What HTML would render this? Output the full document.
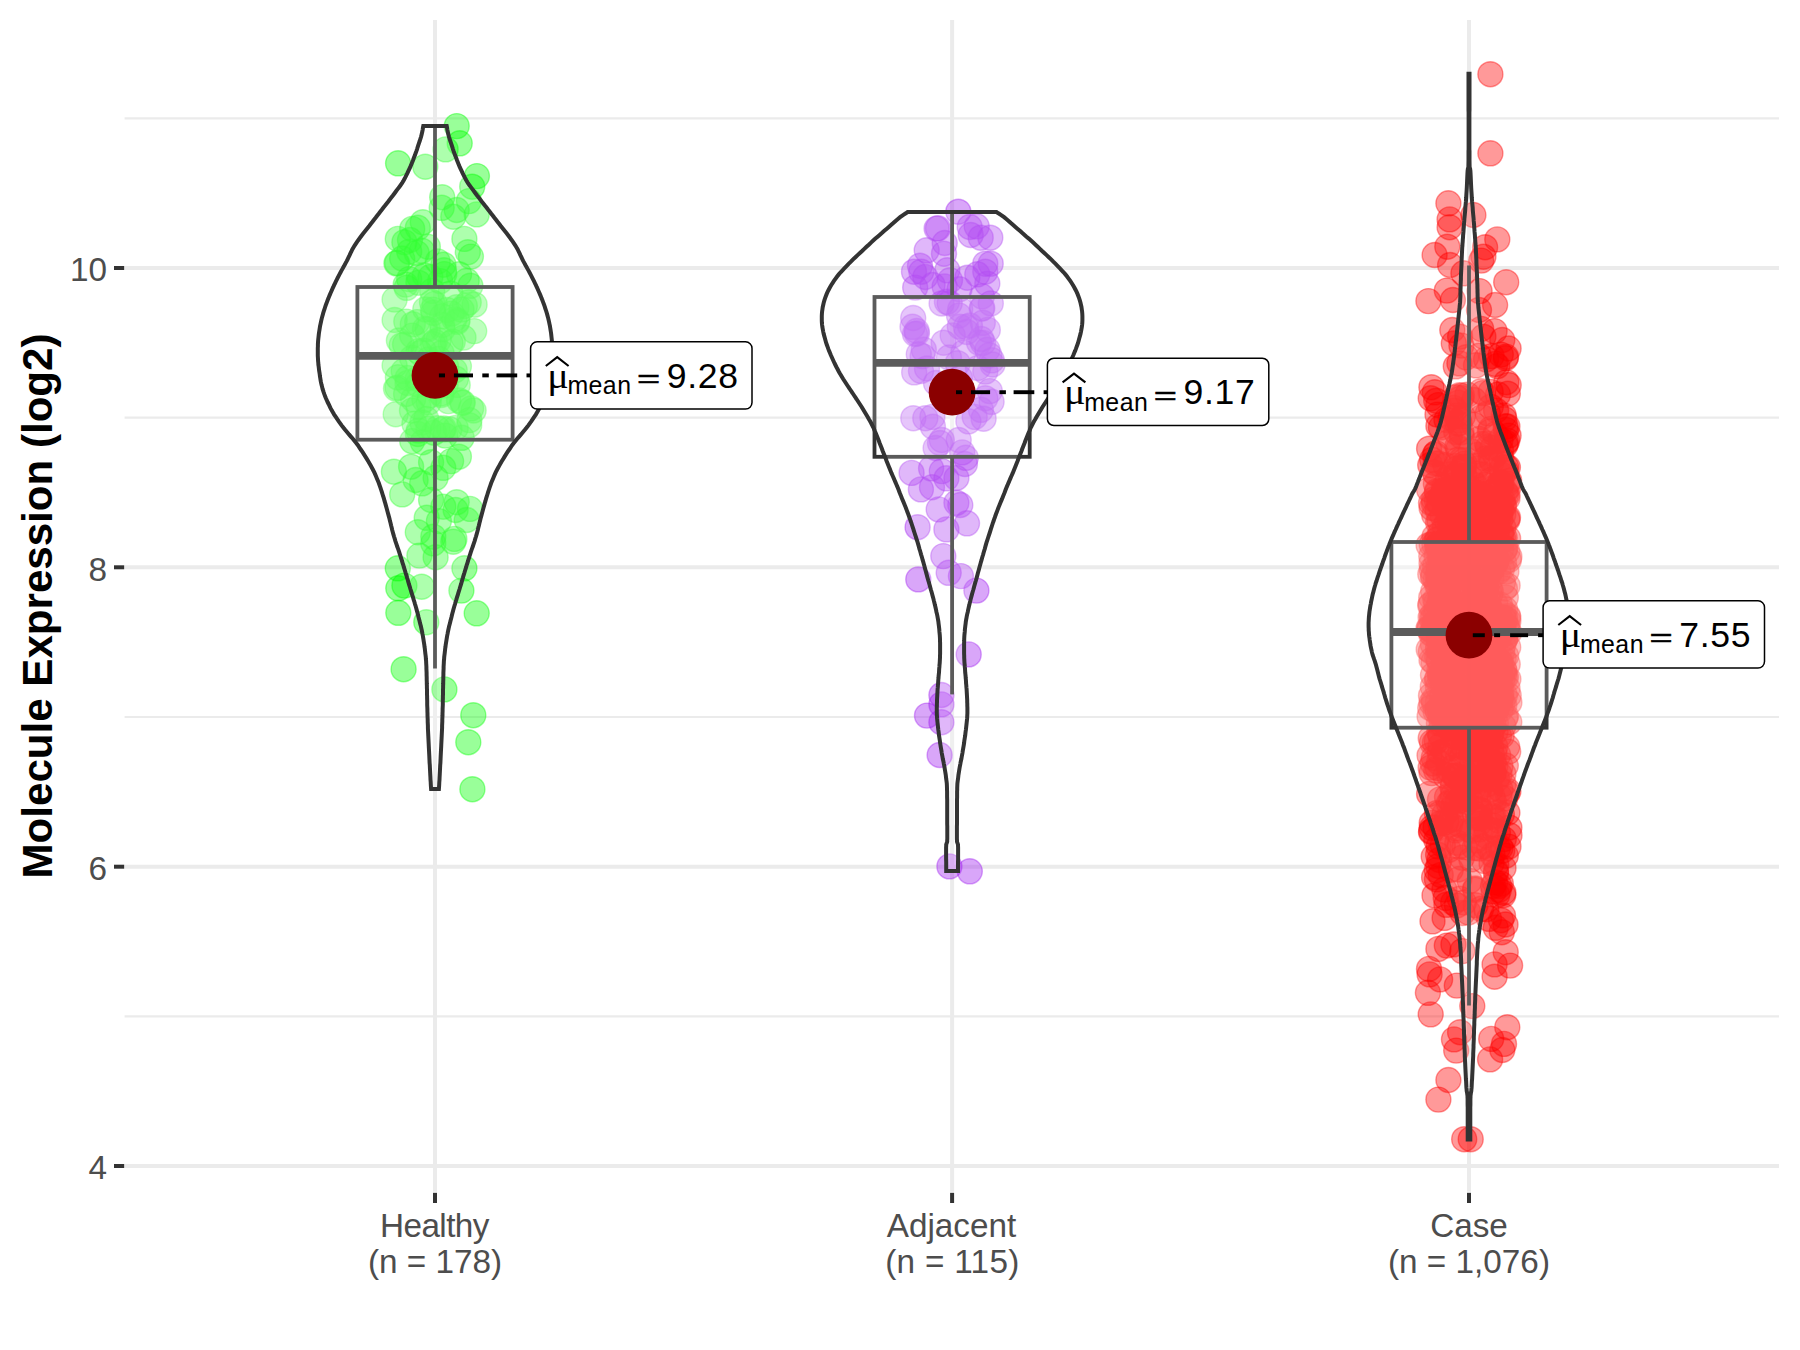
<!DOCTYPE html>
<html lang="en"><head><meta charset="utf-8"><title>Molecule Expression (log2)</title>
<style>html,body{margin:0;padding:0;background:#fff}body{width:1800px;height:1350px;overflow:hidden}svg{display:block}text{font-family:"Liberation Sans",Arial,sans-serif}</style></head><body>
<svg width="1800" height="1350" viewBox="0 0 1800 1350">
<rect x="0" y="0" width="1800" height="1350" fill="#ffffff"/>
<g stroke="#EBEBEB" fill="none">
<line x1="124.6" x2="1779.0" y1="118.3" y2="118.3" stroke-width="2.2"/>
<line x1="124.6" x2="1779.0" y1="417.7" y2="417.7" stroke-width="2.2"/>
<line x1="124.6" x2="1779.0" y1="717.0" y2="717.0" stroke-width="2.2"/>
<line x1="124.6" x2="1779.0" y1="1016.3" y2="1016.3" stroke-width="2.2"/>
<line x1="124.6" x2="1779.0" y1="268.0" y2="268.0" stroke-width="4"/>
<line x1="124.6" x2="1779.0" y1="567.3" y2="567.3" stroke-width="4"/>
<line x1="124.6" x2="1779.0" y1="866.7" y2="866.7" stroke-width="4"/>
<line x1="124.6" x2="1779.0" y1="1166.0" y2="1166.0" stroke-width="4"/>
<line x1="435.0" x2="435.0" y1="20.0" y2="1191.7" stroke-width="4"/>
<line x1="952.1" x2="952.1" y1="20.0" y2="1191.7" stroke-width="4"/>
<line x1="1469.0" x2="1469.0" y1="20.0" y2="1191.7" stroke-width="4"/>
</g>
<g fill="#00FF00" fill-opacity="0.4" stroke="#00FF00" stroke-opacity="0.4" stroke-width="1.4">
<circle cx="461.5" cy="309.6" r="12.5"/><circle cx="404.4" cy="242.2" r="12.5"/><circle cx="421.7" cy="586.7" r="12.5"/><circle cx="426.7" cy="517.8" r="12.5"/><circle cx="441.1" cy="393.5" r="12.5"/><circle cx="440.2" cy="281.1" r="12.5"/><circle cx="470.0" cy="508.9" r="12.5"/><circle cx="476.7" cy="214.4" r="12.5"/><circle cx="427.7" cy="329.2" r="12.5"/><circle cx="418.5" cy="351.2" r="12.5"/><circle cx="417.2" cy="322.1" r="12.5"/><circle cx="435.6" cy="477.8" r="12.5"/><circle cx="432.0" cy="302.1" r="12.5"/><circle cx="403.7" cy="371.1" r="12.5"/><circle cx="443.8" cy="428.4" r="12.5"/><circle cx="431.1" cy="500.0" r="12.5"/><circle cx="459.1" cy="274.2" r="12.5"/><circle cx="444.0" cy="270.3" r="12.5"/><circle cx="444.4" cy="689.4" r="12.5"/><circle cx="405.7" cy="284.6" r="12.5"/><circle cx="464.4" cy="238.9" r="12.5"/><circle cx="416.7" cy="253.1" r="12.5"/><circle cx="468.3" cy="742.2" r="12.5"/><circle cx="409.2" cy="279.1" r="12.5"/><circle cx="454.7" cy="370.4" r="12.5"/><circle cx="450.5" cy="343.1" r="12.5"/><circle cx="456.0" cy="378.8" r="12.5"/><circle cx="434.7" cy="303.7" r="12.5"/><circle cx="464.8" cy="305.9" r="12.5"/><circle cx="412.8" cy="324.2" r="12.5"/><circle cx="455.7" cy="427.9" r="12.5"/><circle cx="417.8" cy="532.2" r="12.5"/><circle cx="469.4" cy="420.1" r="12.5"/><circle cx="419.4" cy="555.6" r="12.5"/><circle cx="433.3" cy="543.3" r="12.5"/><circle cx="448.3" cy="401.1" r="12.5"/><circle cx="438.9" cy="521.1" r="12.5"/><circle cx="421.9" cy="250.7" r="12.5"/><circle cx="445.6" cy="385.5" r="12.5"/><circle cx="444.3" cy="274.1" r="12.5"/><circle cx="418.1" cy="384.7" r="12.5"/><circle cx="447.1" cy="310.0" r="12.5"/><circle cx="455.6" cy="510.0" r="12.5"/><circle cx="470.9" cy="256.6" r="12.5"/><circle cx="462.2" cy="402.8" r="12.5"/><circle cx="443.3" cy="506.7" r="12.5"/><circle cx="414.4" cy="423.7" r="12.5"/><circle cx="426.2" cy="418.9" r="12.5"/><circle cx="451.6" cy="313.6" r="12.5"/><circle cx="473.6" cy="410.5" r="12.5"/><circle cx="473.3" cy="715.2" r="12.5"/><circle cx="397.2" cy="263.0" r="12.5"/><circle cx="410.0" cy="240.0" r="12.5"/><circle cx="429.7" cy="395.3" r="12.5"/><circle cx="458.9" cy="456.7" r="12.5"/><circle cx="396.0" cy="388.6" r="12.5"/><circle cx="418.7" cy="430.6" r="12.5"/><circle cx="394.6" cy="320.0" r="12.5"/><circle cx="406.1" cy="393.9" r="12.5"/><circle cx="443.4" cy="264.7" r="12.5"/><circle cx="456.7" cy="126.1" r="12.5"/><circle cx="464.4" cy="568.3" r="12.5"/><circle cx="433.4" cy="312.8" r="12.5"/><circle cx="452.8" cy="341.6" r="12.5"/><circle cx="407.6" cy="378.0" r="12.5"/><circle cx="425.3" cy="309.4" r="12.5"/><circle cx="397.9" cy="377.3" r="12.5"/><circle cx="453.3" cy="216.7" r="12.5"/><circle cx="398.1" cy="163.3" r="12.5"/><circle cx="412.2" cy="335.6" r="12.5"/><circle cx="461.7" cy="437.8" r="12.5"/><circle cx="474.6" cy="304.7" r="12.5"/><circle cx="434.8" cy="341.8" r="12.5"/><circle cx="442.6" cy="329.2" r="12.5"/><circle cx="433.5" cy="381.0" r="12.5"/><circle cx="428.6" cy="359.4" r="12.5"/><circle cx="471.1" cy="408.4" r="12.5"/><circle cx="450.4" cy="293.4" r="12.5"/><circle cx="404.4" cy="585.6" r="12.5"/><circle cx="420.2" cy="353.0" r="12.5"/><circle cx="398.3" cy="588.3" r="12.5"/><circle cx="443.3" cy="467.8" r="12.5"/><circle cx="394.6" cy="299.6" r="12.5"/><circle cx="394.6" cy="365.5" r="12.5"/><circle cx="458.9" cy="366.3" r="12.5"/><circle cx="397.5" cy="387.6" r="12.5"/><circle cx="441.7" cy="207.8" r="12.5"/><circle cx="459.1" cy="400.4" r="12.5"/><circle cx="476.9" cy="176.1" r="12.5"/><circle cx="426.3" cy="622.2" r="12.5"/><circle cx="442.0" cy="316.3" r="12.5"/><circle cx="442.3" cy="324.9" r="12.5"/><circle cx="468.7" cy="302.3" r="12.5"/><circle cx="397.8" cy="238.9" r="12.5"/><circle cx="432.9" cy="309.6" r="12.5"/><circle cx="393.9" cy="471.7" r="12.5"/><circle cx="456.5" cy="307.2" r="12.5"/><circle cx="459.7" cy="143.3" r="12.5"/><circle cx="406.6" cy="287.8" r="12.5"/><circle cx="470.4" cy="285.8" r="12.5"/><circle cx="456.7" cy="502.2" r="12.5"/><circle cx="468.9" cy="201.1" r="12.5"/><circle cx="396.4" cy="263.3" r="12.5"/><circle cx="413.1" cy="399.3" r="12.5"/><circle cx="441.6" cy="353.0" r="12.5"/><circle cx="457.3" cy="320.5" r="12.5"/><circle cx="395.7" cy="414.2" r="12.5"/><circle cx="423.7" cy="350.6" r="12.5"/><circle cx="469.2" cy="425.2" r="12.5"/><circle cx="431.1" cy="462.2" r="12.5"/><circle cx="457.7" cy="384.9" r="12.5"/><circle cx="412.1" cy="357.9" r="12.5"/><circle cx="472.4" cy="789.2" r="12.5"/><circle cx="412.2" cy="441.1" r="12.5"/><circle cx="406.3" cy="321.6" r="12.5"/><circle cx="398.3" cy="612.8" r="12.5"/><circle cx="461.4" cy="590.6" r="12.5"/><circle cx="453.3" cy="541.7" r="12.5"/><circle cx="445.3" cy="435.6" r="12.5"/><circle cx="456.7" cy="210.0" r="12.5"/><circle cx="438.5" cy="340.2" r="12.5"/><circle cx="446.1" cy="366.6" r="12.5"/><circle cx="418.4" cy="282.7" r="12.5"/><circle cx="428.7" cy="402.3" r="12.5"/><circle cx="467.8" cy="252.2" r="12.5"/><circle cx="422.8" cy="222.2" r="12.5"/><circle cx="430.4" cy="277.0" r="12.5"/><circle cx="407.5" cy="383.0" r="12.5"/><circle cx="415.6" cy="480.0" r="12.5"/><circle cx="454.4" cy="538.9" r="12.5"/><circle cx="433.1" cy="343.9" r="12.5"/><circle cx="422.4" cy="422.5" r="12.5"/><circle cx="433.3" cy="536.7" r="12.5"/><circle cx="428.4" cy="428.7" r="12.5"/><circle cx="472.2" cy="186.7" r="12.5"/><circle cx="466.7" cy="520.0" r="12.5"/><circle cx="422.8" cy="442.2" r="12.5"/><circle cx="424.4" cy="399.8" r="12.5"/><circle cx="438.8" cy="358.9" r="12.5"/><circle cx="449.4" cy="429.2" r="12.5"/><circle cx="474.2" cy="331.1" r="12.5"/><circle cx="425.0" cy="328.8" r="12.5"/><circle cx="417.7" cy="378.8" r="12.5"/><circle cx="466.7" cy="280.7" r="12.5"/><circle cx="462.8" cy="402.5" r="12.5"/><circle cx="442.2" cy="197.2" r="12.5"/><circle cx="463.5" cy="337.6" r="12.5"/><circle cx="418.9" cy="276.1" r="12.5"/><circle cx="398.9" cy="340.5" r="12.5"/><circle cx="476.7" cy="613.3" r="12.5"/><circle cx="454.3" cy="319.3" r="12.5"/><circle cx="457.3" cy="321.8" r="12.5"/><circle cx="402.2" cy="494.4" r="12.5"/><circle cx="418.5" cy="406.9" r="12.5"/><circle cx="412.2" cy="228.9" r="12.5"/><circle cx="401.7" cy="345.2" r="12.5"/><circle cx="437.4" cy="428.3" r="12.5"/><circle cx="402.2" cy="258.5" r="12.5"/><circle cx="409.2" cy="251.7" r="12.5"/><circle cx="434.0" cy="432.7" r="12.5"/><circle cx="441.4" cy="395.0" r="12.5"/><circle cx="451.1" cy="461.1" r="12.5"/><circle cx="403.6" cy="669.2" r="12.5"/><circle cx="422.2" cy="483.3" r="12.5"/><circle cx="425.3" cy="166.7" r="12.5"/><circle cx="442.8" cy="429.4" r="12.5"/><circle cx="417.8" cy="227.8" r="12.5"/><circle cx="445.6" cy="149.4" r="12.5"/><circle cx="432.2" cy="290.9" r="12.5"/><circle cx="405.1" cy="344.4" r="12.5"/><circle cx="412.0" cy="410.6" r="12.5"/><circle cx="411.1" cy="466.7" r="12.5"/><circle cx="427.8" cy="246.7" r="12.5"/><circle cx="417.9" cy="434.0" r="12.5"/><circle cx="397.8" cy="568.3" r="12.5"/><circle cx="435.6" cy="557.2" r="12.5"/><circle cx="437.7" cy="261.4" r="12.5"/><circle cx="424.8" cy="275.5" r="12.5"/>
</g>
<g fill="#A020F0" fill-opacity="0.4" stroke="#A020F0" stroke-opacity="0.4" stroke-width="1.4">
<circle cx="915.0" cy="334.0" r="12.5"/><circle cx="927.0" cy="715.6" r="12.5"/><circle cx="914.0" cy="271.7" r="12.5"/><circle cx="982.8" cy="322.8" r="12.5"/><circle cx="980.7" cy="237.7" r="12.5"/><circle cx="926.7" cy="250.3" r="12.5"/><circle cx="941.8" cy="471.1" r="12.5"/><circle cx="931.1" cy="468.4" r="12.5"/><circle cx="915.2" cy="287.6" r="12.5"/><circle cx="985.3" cy="398.2" r="12.5"/><circle cx="927.0" cy="368.5" r="12.5"/><circle cx="952.7" cy="335.4" r="12.5"/><circle cx="982.3" cy="308.1" r="12.5"/><circle cx="959.0" cy="315.5" r="12.5"/><circle cx="920.0" cy="265.7" r="12.5"/><circle cx="990.8" cy="303.4" r="12.5"/><circle cx="921.0" cy="371.0" r="12.5"/><circle cx="947.3" cy="270.3" r="12.5"/><circle cx="960.0" cy="378.0" r="12.5"/><circle cx="956.4" cy="502.8" r="12.5"/><circle cx="979.0" cy="342.6" r="12.5"/><circle cx="960.9" cy="576.1" r="12.5"/><circle cx="943.3" cy="556.1" r="12.5"/><circle cx="914.2" cy="372.4" r="12.5"/><circle cx="959.8" cy="326.7" r="12.5"/><circle cx="945.0" cy="400.0" r="12.5"/><circle cx="950.0" cy="280.3" r="12.5"/><circle cx="957.7" cy="363.2" r="12.5"/><circle cx="932.4" cy="416.9" r="12.5"/><circle cx="987.3" cy="283.7" r="12.5"/><circle cx="913.3" cy="418.2" r="12.5"/><circle cx="938.0" cy="228.3" r="12.5"/><circle cx="987.8" cy="329.9" r="12.5"/><circle cx="913.2" cy="318.0" r="12.5"/><circle cx="991.6" cy="401.8" r="12.5"/><circle cx="932.9" cy="426.7" r="12.5"/><circle cx="920.9" cy="489.4" r="12.5"/><circle cx="962.2" cy="452.4" r="12.5"/><circle cx="944.6" cy="286.4" r="12.5"/><circle cx="932.6" cy="285.0" r="12.5"/><circle cx="965.8" cy="457.8" r="12.5"/><circle cx="925.3" cy="418.2" r="12.5"/><circle cx="911.6" cy="472.9" r="12.5"/><circle cx="985.3" cy="263.7" r="12.5"/><circle cx="990.3" cy="237.7" r="12.5"/><circle cx="941.4" cy="722.2" r="12.5"/><circle cx="941.8" cy="440.0" r="12.5"/><circle cx="935.6" cy="448.0" r="12.5"/><circle cx="943.6" cy="342.7" r="12.5"/><circle cx="970.7" cy="235.0" r="12.5"/><circle cx="985.3" cy="271.7" r="12.5"/><circle cx="949.4" cy="866.4" r="12.5"/><circle cx="983.0" cy="342.9" r="12.5"/><circle cx="981.3" cy="339.0" r="12.5"/><circle cx="912.5" cy="326.8" r="12.5"/><circle cx="922.6" cy="356.1" r="12.5"/><circle cx="987.4" cy="349.7" r="12.5"/><circle cx="960.3" cy="505.0" r="12.5"/><circle cx="923.8" cy="349.7" r="12.5"/><circle cx="944.0" cy="253.7" r="12.5"/><circle cx="981.9" cy="296.3" r="12.5"/><circle cx="950.0" cy="385.0" r="12.5"/><circle cx="991.9" cy="360.3" r="12.5"/><circle cx="966.0" cy="326.9" r="12.5"/><circle cx="959.5" cy="289.2" r="12.5"/><circle cx="958.7" cy="440.0" r="12.5"/><circle cx="964.9" cy="464.0" r="12.5"/><circle cx="968.7" cy="654.4" r="12.5"/><circle cx="992.5" cy="364.5" r="12.5"/><circle cx="976.4" cy="590.6" r="12.5"/><circle cx="969.8" cy="871.3" r="12.5"/><circle cx="941.4" cy="704.4" r="12.5"/><circle cx="946.4" cy="478.3" r="12.5"/><circle cx="989.8" cy="391.1" r="12.5"/><circle cx="958.3" cy="211.7" r="12.5"/><circle cx="941.4" cy="695.0" r="12.5"/><circle cx="980.9" cy="409.8" r="12.5"/><circle cx="977.3" cy="274.3" r="12.5"/><circle cx="941.6" cy="303.5" r="12.5"/><circle cx="948.7" cy="572.8" r="12.5"/><circle cx="916.7" cy="331.0" r="12.5"/><circle cx="932.0" cy="487.2" r="12.5"/><circle cx="976.7" cy="226.3" r="12.5"/><circle cx="967.0" cy="523.3" r="12.5"/><circle cx="969.9" cy="325.5" r="12.5"/><circle cx="974.7" cy="416.9" r="12.5"/><circle cx="916.9" cy="333.5" r="12.5"/><circle cx="921.3" cy="271.7" r="12.5"/><circle cx="989.3" cy="355.2" r="12.5"/><circle cx="918.8" cy="354.2" r="12.5"/><circle cx="960.2" cy="309.4" r="12.5"/><circle cx="981.7" cy="308.7" r="12.5"/><circle cx="917.6" cy="527.2" r="12.5"/><circle cx="944.7" cy="243.0" r="12.5"/><circle cx="978.0" cy="368.0" r="12.5"/><circle cx="966.8" cy="332.0" r="12.5"/><circle cx="983.6" cy="418.7" r="12.5"/><circle cx="985.3" cy="371.6" r="12.5"/><circle cx="925.3" cy="277.0" r="12.5"/><circle cx="936.0" cy="383.0" r="12.5"/><circle cx="963.4" cy="352.6" r="12.5"/><circle cx="967.3" cy="277.7" r="12.5"/><circle cx="969.7" cy="227.0" r="12.5"/><circle cx="956.4" cy="478.0" r="12.5"/><circle cx="990.7" cy="263.7" r="12.5"/><circle cx="918.3" cy="579.4" r="12.5"/><circle cx="938.7" cy="509.4" r="12.5"/><circle cx="936.6" cy="228.6" r="12.5"/><circle cx="940.0" cy="443.0" r="12.5"/><circle cx="948.9" cy="357.5" r="12.5"/><circle cx="939.6" cy="755.0" r="12.5"/><circle cx="949.7" cy="303.2" r="12.5"/><circle cx="946.4" cy="529.4" r="12.5"/><circle cx="946.9" cy="301.8" r="12.5"/><circle cx="968.4" cy="421.3" r="12.5"/>
</g>
<g fill="#FF0000" fill-opacity="0.4" stroke="#FF0000" stroke-opacity="0.4" stroke-width="1.4">
<circle cx="1446.0" cy="621.9" r="12.5"/><circle cx="1431.0" cy="633.7" r="12.5"/><circle cx="1461.4" cy="780.6" r="12.5"/><circle cx="1472.0" cy="764.9" r="12.5"/><circle cx="1429.7" cy="629.1" r="12.5"/><circle cx="1456.4" cy="540.9" r="12.5"/><circle cx="1487.5" cy="691.6" r="12.5"/><circle cx="1464.3" cy="694.9" r="12.5"/><circle cx="1500.5" cy="766.2" r="12.5"/><circle cx="1497.3" cy="702.6" r="12.5"/><circle cx="1464.3" cy="736.2" r="12.5"/><circle cx="1489.9" cy="676.4" r="12.5"/><circle cx="1481.8" cy="574.1" r="12.5"/><circle cx="1434.4" cy="544.4" r="12.5"/><circle cx="1432.7" cy="763.3" r="12.5"/><circle cx="1486.0" cy="731.4" r="12.5"/><circle cx="1495.4" cy="564.8" r="12.5"/><circle cx="1467.0" cy="777.2" r="12.5"/><circle cx="1489.5" cy="517.4" r="12.5"/><circle cx="1468.9" cy="489.9" r="12.5"/><circle cx="1456.2" cy="711.1" r="12.5"/><circle cx="1456.5" cy="474.4" r="12.5"/><circle cx="1455.4" cy="619.0" r="12.5"/><circle cx="1429.1" cy="793.9" r="12.5"/><circle cx="1456.5" cy="634.2" r="12.5"/><circle cx="1451.5" cy="701.1" r="12.5"/><circle cx="1500.6" cy="847.6" r="12.5"/><circle cx="1457.4" cy="423.3" r="12.5"/><circle cx="1490.5" cy="761.0" r="12.5"/><circle cx="1467.4" cy="614.2" r="12.5"/><circle cx="1496.3" cy="864.6" r="12.5"/><circle cx="1433.2" cy="591.7" r="12.5"/><circle cx="1461.4" cy="560.9" r="12.5"/><circle cx="1487.3" cy="726.9" r="12.5"/><circle cx="1481.2" cy="536.9" r="12.5"/><circle cx="1459.6" cy="423.2" r="12.5"/><circle cx="1478.2" cy="816.4" r="12.5"/><circle cx="1458.4" cy="402.7" r="12.5"/><circle cx="1478.2" cy="711.6" r="12.5"/><circle cx="1444.1" cy="490.1" r="12.5"/><circle cx="1452.9" cy="300.0" r="12.5"/><circle cx="1446.5" cy="574.0" r="12.5"/><circle cx="1487.3" cy="706.8" r="12.5"/><circle cx="1463.9" cy="902.6" r="12.5"/><circle cx="1452.4" cy="787.0" r="12.5"/><circle cx="1475.3" cy="730.5" r="12.5"/><circle cx="1429.2" cy="628.3" r="12.5"/><circle cx="1438.6" cy="625.9" r="12.5"/><circle cx="1492.7" cy="796.9" r="12.5"/><circle cx="1458.8" cy="420.3" r="12.5"/><circle cx="1495.1" cy="555.9" r="12.5"/><circle cx="1458.1" cy="801.2" r="12.5"/><circle cx="1437.5" cy="710.4" r="12.5"/><circle cx="1466.8" cy="630.2" r="12.5"/><circle cx="1452.8" cy="506.3" r="12.5"/><circle cx="1476.8" cy="753.2" r="12.5"/><circle cx="1466.2" cy="630.9" r="12.5"/><circle cx="1451.4" cy="566.8" r="12.5"/><circle cx="1447.9" cy="727.4" r="12.5"/><circle cx="1444.5" cy="625.2" r="12.5"/><circle cx="1457.4" cy="591.8" r="12.5"/><circle cx="1474.4" cy="755.0" r="12.5"/><circle cx="1453.0" cy="557.6" r="12.5"/><circle cx="1465.9" cy="522.5" r="12.5"/><circle cx="1436.7" cy="870.1" r="12.5"/><circle cx="1453.8" cy="522.4" r="12.5"/><circle cx="1461.1" cy="705.7" r="12.5"/><circle cx="1437.2" cy="545.6" r="12.5"/><circle cx="1456.2" cy="1050.6" r="12.5"/><circle cx="1456.0" cy="397.2" r="12.5"/><circle cx="1452.6" cy="628.5" r="12.5"/><circle cx="1498.2" cy="755.0" r="12.5"/><circle cx="1481.6" cy="443.9" r="12.5"/><circle cx="1503.7" cy="504.9" r="12.5"/><circle cx="1447.7" cy="669.6" r="12.5"/><circle cx="1504.7" cy="537.8" r="12.5"/><circle cx="1465.3" cy="658.0" r="12.5"/><circle cx="1438.4" cy="1099.6" r="12.5"/><circle cx="1464.3" cy="621.2" r="12.5"/><circle cx="1504.0" cy="1043.9" r="12.5"/><circle cx="1496.6" cy="532.9" r="12.5"/><circle cx="1487.8" cy="413.4" r="12.5"/><circle cx="1469.7" cy="579.8" r="12.5"/><circle cx="1492.5" cy="509.8" r="12.5"/><circle cx="1449.8" cy="534.7" r="12.5"/><circle cx="1501.5" cy="537.0" r="12.5"/><circle cx="1455.0" cy="699.6" r="12.5"/><circle cx="1450.2" cy="722.7" r="12.5"/><circle cx="1504.0" cy="669.2" r="12.5"/><circle cx="1458.8" cy="653.6" r="12.5"/><circle cx="1485.8" cy="827.6" r="12.5"/><circle cx="1484.3" cy="703.1" r="12.5"/><circle cx="1479.0" cy="818.6" r="12.5"/><circle cx="1430.8" cy="651.5" r="12.5"/><circle cx="1477.3" cy="454.9" r="12.5"/><circle cx="1506.4" cy="571.6" r="12.5"/><circle cx="1457.7" cy="628.6" r="12.5"/><circle cx="1506.2" cy="655.9" r="12.5"/><circle cx="1457.2" cy="488.1" r="12.5"/><circle cx="1475.9" cy="730.4" r="12.5"/><circle cx="1430.7" cy="398.3" r="12.5"/><circle cx="1451.9" cy="672.2" r="12.5"/><circle cx="1480.5" cy="643.2" r="12.5"/><circle cx="1470.9" cy="531.7" r="12.5"/><circle cx="1444.3" cy="493.5" r="12.5"/><circle cx="1476.6" cy="744.8" r="12.5"/><circle cx="1451.0" cy="721.5" r="12.5"/><circle cx="1495.2" cy="767.1" r="12.5"/><circle cx="1475.2" cy="888.5" r="12.5"/><circle cx="1487.4" cy="776.5" r="12.5"/><circle cx="1505.6" cy="444.8" r="12.5"/><circle cx="1475.5" cy="711.4" r="12.5"/><circle cx="1493.6" cy="772.3" r="12.5"/><circle cx="1458.8" cy="496.4" r="12.5"/><circle cx="1496.0" cy="873.2" r="12.5"/><circle cx="1492.4" cy="664.1" r="12.5"/><circle cx="1437.0" cy="500.8" r="12.5"/><circle cx="1449.1" cy="497.1" r="12.5"/><circle cx="1499.5" cy="796.7" r="12.5"/><circle cx="1454.0" cy="1039.4" r="12.5"/><circle cx="1501.2" cy="697.7" r="12.5"/><circle cx="1500.5" cy="519.6" r="12.5"/><circle cx="1438.4" cy="618.9" r="12.5"/><circle cx="1484.3" cy="594.6" r="12.5"/><circle cx="1449.8" cy="490.3" r="12.5"/><circle cx="1470.4" cy="620.2" r="12.5"/><circle cx="1470.8" cy="502.7" r="12.5"/><circle cx="1506.7" cy="627.2" r="12.5"/><circle cx="1491.8" cy="636.5" r="12.5"/><circle cx="1466.1" cy="624.6" r="12.5"/><circle cx="1440.5" cy="735.6" r="12.5"/><circle cx="1456.0" cy="776.2" r="12.5"/><circle cx="1451.7" cy="550.2" r="12.5"/><circle cx="1492.5" cy="690.4" r="12.5"/><circle cx="1450.1" cy="512.2" r="12.5"/><circle cx="1470.4" cy="674.5" r="12.5"/><circle cx="1506.1" cy="677.0" r="12.5"/><circle cx="1502.9" cy="582.6" r="12.5"/><circle cx="1485.1" cy="247.2" r="12.5"/><circle cx="1434.9" cy="454.7" r="12.5"/><circle cx="1498.2" cy="820.5" r="12.5"/><circle cx="1503.7" cy="659.0" r="12.5"/><circle cx="1439.1" cy="502.7" r="12.5"/><circle cx="1438.8" cy="463.4" r="12.5"/><circle cx="1466.6" cy="739.3" r="12.5"/><circle cx="1469.5" cy="494.9" r="12.5"/><circle cx="1471.1" cy="478.7" r="12.5"/><circle cx="1470.1" cy="737.5" r="12.5"/><circle cx="1442.2" cy="695.9" r="12.5"/><circle cx="1486.9" cy="443.4" r="12.5"/><circle cx="1454.7" cy="800.4" r="12.5"/><circle cx="1429.0" cy="968.9" r="12.5"/><circle cx="1506.3" cy="382.2" r="12.5"/><circle cx="1480.1" cy="645.8" r="12.5"/><circle cx="1497.6" cy="520.5" r="12.5"/><circle cx="1460.3" cy="628.5" r="12.5"/><circle cx="1476.2" cy="731.3" r="12.5"/><circle cx="1500.5" cy="789.8" r="12.5"/><circle cx="1444.3" cy="615.5" r="12.5"/><circle cx="1469.0" cy="829.7" r="12.5"/><circle cx="1484.9" cy="527.0" r="12.5"/><circle cx="1501.0" cy="532.5" r="12.5"/><circle cx="1502.7" cy="703.4" r="12.5"/><circle cx="1445.1" cy="547.8" r="12.5"/><circle cx="1439.3" cy="650.7" r="12.5"/><circle cx="1481.2" cy="608.8" r="12.5"/><circle cx="1431.8" cy="827.8" r="12.5"/><circle cx="1481.2" cy="671.9" r="12.5"/><circle cx="1450.2" cy="824.4" r="12.5"/><circle cx="1480.8" cy="592.6" r="12.5"/><circle cx="1496.3" cy="709.1" r="12.5"/><circle cx="1495.7" cy="562.0" r="12.5"/><circle cx="1437.0" cy="491.1" r="12.5"/><circle cx="1462.9" cy="416.3" r="12.5"/><circle cx="1505.5" cy="924.5" r="12.5"/><circle cx="1437.1" cy="585.0" r="12.5"/><circle cx="1440.9" cy="427.5" r="12.5"/><circle cx="1436.3" cy="602.6" r="12.5"/><circle cx="1481.4" cy="595.7" r="12.5"/><circle cx="1437.3" cy="678.3" r="12.5"/><circle cx="1489.3" cy="572.5" r="12.5"/><circle cx="1498.0" cy="394.5" r="12.5"/><circle cx="1459.4" cy="618.9" r="12.5"/><circle cx="1482.3" cy="531.5" r="12.5"/><circle cx="1438.5" cy="566.0" r="12.5"/><circle cx="1460.6" cy="523.2" r="12.5"/><circle cx="1501.7" cy="484.3" r="12.5"/><circle cx="1448.4" cy="1080.0" r="12.5"/><circle cx="1503.3" cy="514.5" r="12.5"/><circle cx="1449.9" cy="564.6" r="12.5"/><circle cx="1465.2" cy="572.8" r="12.5"/><circle cx="1433.5" cy="615.6" r="12.5"/><circle cx="1438.6" cy="634.4" r="12.5"/><circle cx="1463.3" cy="747.1" r="12.5"/><circle cx="1505.7" cy="358.1" r="12.5"/><circle cx="1489.4" cy="637.1" r="12.5"/><circle cx="1500.2" cy="679.3" r="12.5"/><circle cx="1448.4" cy="203.3" r="12.5"/><circle cx="1468.6" cy="574.6" r="12.5"/><circle cx="1477.1" cy="473.5" r="12.5"/><circle cx="1503.4" cy="773.9" r="12.5"/><circle cx="1481.6" cy="509.6" r="12.5"/><circle cx="1440.1" cy="979.4" r="12.5"/><circle cx="1461.9" cy="857.7" r="12.5"/><circle cx="1481.2" cy="658.7" r="12.5"/><circle cx="1494.9" cy="455.1" r="12.5"/><circle cx="1478.6" cy="772.9" r="12.5"/><circle cx="1464.2" cy="593.2" r="12.5"/><circle cx="1501.8" cy="469.7" r="12.5"/><circle cx="1507.3" cy="1027.2" r="12.5"/><circle cx="1469.6" cy="553.0" r="12.5"/><circle cx="1500.0" cy="515.6" r="12.5"/><circle cx="1442.7" cy="611.3" r="12.5"/><circle cx="1460.3" cy="636.4" r="12.5"/><circle cx="1434.4" cy="536.8" r="12.5"/><circle cx="1449.6" cy="491.0" r="12.5"/><circle cx="1482.2" cy="666.5" r="12.5"/><circle cx="1486.3" cy="909.2" r="12.5"/><circle cx="1437.7" cy="710.7" r="12.5"/><circle cx="1497.9" cy="832.6" r="12.5"/><circle cx="1504.9" cy="588.5" r="12.5"/><circle cx="1470.7" cy="1139.2" r="12.5"/><circle cx="1435.3" cy="599.9" r="12.5"/><circle cx="1490.6" cy="503.6" r="12.5"/><circle cx="1498.6" cy="485.5" r="12.5"/><circle cx="1433.8" cy="503.3" r="12.5"/><circle cx="1501.2" cy="549.4" r="12.5"/><circle cx="1463.2" cy="606.3" r="12.5"/><circle cx="1500.8" cy="883.7" r="12.5"/><circle cx="1499.6" cy="774.3" r="12.5"/><circle cx="1458.2" cy="629.5" r="12.5"/><circle cx="1468.9" cy="592.9" r="12.5"/><circle cx="1510.1" cy="965.6" r="12.5"/><circle cx="1455.8" cy="522.6" r="12.5"/><circle cx="1484.8" cy="484.7" r="12.5"/><circle cx="1498.4" cy="571.8" r="12.5"/><circle cx="1480.5" cy="810.3" r="12.5"/><circle cx="1490.4" cy="764.6" r="12.5"/><circle cx="1504.5" cy="670.9" r="12.5"/><circle cx="1436.2" cy="400.7" r="12.5"/><circle cx="1505.2" cy="548.2" r="12.5"/><circle cx="1442.6" cy="624.8" r="12.5"/><circle cx="1464.0" cy="547.7" r="12.5"/><circle cx="1488.1" cy="447.0" r="12.5"/><circle cx="1490.8" cy="406.7" r="12.5"/><circle cx="1467.9" cy="789.3" r="12.5"/><circle cx="1494.2" cy="830.4" r="12.5"/><circle cx="1459.0" cy="630.1" r="12.5"/><circle cx="1509.4" cy="702.5" r="12.5"/><circle cx="1472.2" cy="525.4" r="12.5"/><circle cx="1495.3" cy="434.3" r="12.5"/><circle cx="1462.7" cy="584.6" r="12.5"/><circle cx="1505.4" cy="491.5" r="12.5"/><circle cx="1491.3" cy="717.2" r="12.5"/><circle cx="1438.1" cy="624.6" r="12.5"/><circle cx="1478.2" cy="534.5" r="12.5"/><circle cx="1487.7" cy="664.9" r="12.5"/><circle cx="1463.8" cy="532.0" r="12.5"/><circle cx="1482.2" cy="636.7" r="12.5"/><circle cx="1431.6" cy="507.9" r="12.5"/><circle cx="1466.3" cy="534.8" r="12.5"/><circle cx="1429.1" cy="489.7" r="12.5"/><circle cx="1491.0" cy="642.5" r="12.5"/><circle cx="1475.0" cy="747.9" r="12.5"/><circle cx="1495.3" cy="746.7" r="12.5"/><circle cx="1446.7" cy="643.2" r="12.5"/><circle cx="1432.2" cy="459.8" r="12.5"/><circle cx="1450.2" cy="721.8" r="12.5"/><circle cx="1439.5" cy="520.9" r="12.5"/><circle cx="1488.5" cy="668.1" r="12.5"/><circle cx="1479.0" cy="310.0" r="12.5"/><circle cx="1464.0" cy="467.5" r="12.5"/><circle cx="1441.7" cy="723.7" r="12.5"/><circle cx="1503.4" cy="726.0" r="12.5"/><circle cx="1444.4" cy="580.5" r="12.5"/><circle cx="1432.8" cy="686.7" r="12.5"/><circle cx="1490.9" cy="735.0" r="12.5"/><circle cx="1493.0" cy="886.0" r="12.5"/><circle cx="1468.3" cy="507.6" r="12.5"/><circle cx="1437.0" cy="492.7" r="12.5"/><circle cx="1498.3" cy="620.9" r="12.5"/><circle cx="1480.8" cy="391.3" r="12.5"/><circle cx="1501.1" cy="696.3" r="12.5"/><circle cx="1432.0" cy="742.3" r="12.5"/><circle cx="1505.6" cy="637.4" r="12.5"/><circle cx="1457.5" cy="468.2" r="12.5"/><circle cx="1440.0" cy="799.4" r="12.5"/><circle cx="1453.4" cy="944.4" r="12.5"/><circle cx="1466.4" cy="719.9" r="12.5"/><circle cx="1472.5" cy="613.8" r="12.5"/><circle cx="1507.2" cy="746.8" r="12.5"/><circle cx="1463.0" cy="694.8" r="12.5"/><circle cx="1505.1" cy="548.6" r="12.5"/><circle cx="1482.8" cy="676.9" r="12.5"/><circle cx="1503.2" cy="538.3" r="12.5"/><circle cx="1451.6" cy="562.3" r="12.5"/><circle cx="1474.7" cy="813.5" r="12.5"/><circle cx="1446.3" cy="822.0" r="12.5"/><circle cx="1490.1" cy="1059.4" r="12.5"/><circle cx="1450.3" cy="474.3" r="12.5"/><circle cx="1444.2" cy="751.0" r="12.5"/><circle cx="1428.6" cy="545.2" r="12.5"/><circle cx="1483.2" cy="584.2" r="12.5"/><circle cx="1442.6" cy="515.9" r="12.5"/><circle cx="1455.3" cy="574.7" r="12.5"/><circle cx="1461.3" cy="398.0" r="12.5"/><circle cx="1439.3" cy="642.2" r="12.5"/><circle cx="1436.9" cy="813.0" r="12.5"/><circle cx="1489.8" cy="431.6" r="12.5"/><circle cx="1478.8" cy="696.7" r="12.5"/><circle cx="1479.1" cy="718.2" r="12.5"/><circle cx="1431.7" cy="633.3" r="12.5"/><circle cx="1433.8" cy="499.5" r="12.5"/><circle cx="1488.5" cy="552.5" r="12.5"/><circle cx="1483.6" cy="590.1" r="12.5"/><circle cx="1508.7" cy="385.1" r="12.5"/><circle cx="1482.8" cy="636.6" r="12.5"/><circle cx="1493.6" cy="725.7" r="12.5"/><circle cx="1451.2" cy="819.7" r="12.5"/><circle cx="1451.0" cy="801.2" r="12.5"/><circle cx="1459.8" cy="898.7" r="12.5"/><circle cx="1457.0" cy="823.3" r="12.5"/><circle cx="1507.6" cy="585.6" r="12.5"/><circle cx="1442.1" cy="595.0" r="12.5"/><circle cx="1478.7" cy="599.6" r="12.5"/><circle cx="1475.3" cy="510.6" r="12.5"/><circle cx="1505.8" cy="597.4" r="12.5"/><circle cx="1487.7" cy="784.1" r="12.5"/><circle cx="1447.9" cy="631.0" r="12.5"/><circle cx="1487.0" cy="736.9" r="12.5"/><circle cx="1436.2" cy="622.3" r="12.5"/><circle cx="1453.7" cy="529.4" r="12.5"/><circle cx="1490.8" cy="458.6" r="12.5"/><circle cx="1438.8" cy="659.9" r="12.5"/><circle cx="1482.9" cy="642.9" r="12.5"/><circle cx="1440.4" cy="641.6" r="12.5"/><circle cx="1436.8" cy="740.9" r="12.5"/><circle cx="1449.1" cy="704.8" r="12.5"/><circle cx="1440.6" cy="559.4" r="12.5"/><circle cx="1478.9" cy="781.0" r="12.5"/><circle cx="1481.5" cy="654.8" r="12.5"/><circle cx="1449.6" cy="684.8" r="12.5"/><circle cx="1459.0" cy="680.0" r="12.5"/><circle cx="1460.0" cy="550.0" r="12.5"/><circle cx="1491.0" cy="747.3" r="12.5"/><circle cx="1483.1" cy="846.3" r="12.5"/><circle cx="1499.3" cy="685.5" r="12.5"/><circle cx="1448.2" cy="442.4" r="12.5"/><circle cx="1481.8" cy="632.0" r="12.5"/><circle cx="1455.1" cy="647.0" r="12.5"/><circle cx="1469.6" cy="634.8" r="12.5"/><circle cx="1491.2" cy="1038.9" r="12.5"/><circle cx="1475.7" cy="605.6" r="12.5"/><circle cx="1437.9" cy="701.8" r="12.5"/><circle cx="1444.6" cy="577.6" r="12.5"/><circle cx="1464.4" cy="633.7" r="12.5"/><circle cx="1478.2" cy="680.0" r="12.5"/><circle cx="1489.3" cy="607.9" r="12.5"/><circle cx="1469.2" cy="619.5" r="12.5"/><circle cx="1497.6" cy="707.0" r="12.5"/><circle cx="1458.3" cy="448.8" r="12.5"/><circle cx="1506.2" cy="282.2" r="12.5"/><circle cx="1446.3" cy="609.3" r="12.5"/><circle cx="1447.0" cy="797.0" r="12.5"/><circle cx="1472.9" cy="592.1" r="12.5"/><circle cx="1504.3" cy="550.1" r="12.5"/><circle cx="1458.7" cy="530.8" r="12.5"/><circle cx="1472.3" cy="1006.1" r="12.5"/><circle cx="1489.7" cy="570.5" r="12.5"/><circle cx="1454.9" cy="518.1" r="12.5"/><circle cx="1494.4" cy="679.7" r="12.5"/><circle cx="1491.9" cy="539.8" r="12.5"/><circle cx="1480.4" cy="640.4" r="12.5"/><circle cx="1508.2" cy="647.2" r="12.5"/><circle cx="1493.2" cy="825.6" r="12.5"/><circle cx="1501.9" cy="814.5" r="12.5"/><circle cx="1479.3" cy="438.9" r="12.5"/><circle cx="1460.1" cy="336.7" r="12.5"/><circle cx="1446.4" cy="419.8" r="12.5"/><circle cx="1447.2" cy="663.0" r="12.5"/><circle cx="1499.7" cy="661.4" r="12.5"/><circle cx="1453.6" cy="477.6" r="12.5"/><circle cx="1494.6" cy="964.4" r="12.5"/><circle cx="1446.6" cy="666.4" r="12.5"/><circle cx="1456.8" cy="985.6" r="12.5"/><circle cx="1433.5" cy="661.9" r="12.5"/><circle cx="1447.3" cy="246.7" r="12.5"/><circle cx="1488.6" cy="535.5" r="12.5"/><circle cx="1444.8" cy="722.2" r="12.5"/><circle cx="1440.5" cy="714.2" r="12.5"/><circle cx="1492.9" cy="615.9" r="12.5"/><circle cx="1462.4" cy="755.0" r="12.5"/><circle cx="1476.6" cy="755.5" r="12.5"/><circle cx="1490.3" cy="789.9" r="12.5"/><circle cx="1478.3" cy="619.5" r="12.5"/><circle cx="1440.2" cy="597.6" r="12.5"/><circle cx="1463.2" cy="781.2" r="12.5"/><circle cx="1505.0" cy="638.6" r="12.5"/><circle cx="1450.7" cy="578.7" r="12.5"/><circle cx="1501.0" cy="450.4" r="12.5"/><circle cx="1488.3" cy="705.3" r="12.5"/><circle cx="1493.1" cy="815.7" r="12.5"/><circle cx="1488.6" cy="773.1" r="12.5"/><circle cx="1508.4" cy="679.1" r="12.5"/><circle cx="1434.5" cy="895.4" r="12.5"/><circle cx="1430.7" cy="738.1" r="12.5"/><circle cx="1484.1" cy="504.4" r="12.5"/><circle cx="1434.6" cy="255.0" r="12.5"/><circle cx="1469.3" cy="741.9" r="12.5"/><circle cx="1428.4" cy="301.1" r="12.5"/><circle cx="1503.4" cy="892.7" r="12.5"/><circle cx="1500.8" cy="620.5" r="12.5"/><circle cx="1501.5" cy="663.2" r="12.5"/><circle cx="1507.8" cy="393.7" r="12.5"/><circle cx="1489.0" cy="646.5" r="12.5"/><circle cx="1490.7" cy="391.9" r="12.5"/><circle cx="1468.5" cy="486.8" r="12.5"/><circle cx="1486.9" cy="665.7" r="12.5"/><circle cx="1505.3" cy="618.2" r="12.5"/><circle cx="1505.0" cy="633.4" r="12.5"/><circle cx="1508.0" cy="517.4" r="12.5"/><circle cx="1467.1" cy="776.0" r="12.5"/><circle cx="1448.8" cy="558.8" r="12.5"/><circle cx="1448.8" cy="515.0" r="12.5"/><circle cx="1482.1" cy="416.9" r="12.5"/><circle cx="1433.1" cy="577.4" r="12.5"/><circle cx="1431.9" cy="569.7" r="12.5"/><circle cx="1458.6" cy="490.1" r="12.5"/><circle cx="1479.6" cy="291.1" r="12.5"/><circle cx="1486.0" cy="645.3" r="12.5"/><circle cx="1437.5" cy="414.6" r="12.5"/><circle cx="1502.6" cy="500.7" r="12.5"/><circle cx="1506.0" cy="716.1" r="12.5"/><circle cx="1483.1" cy="697.0" r="12.5"/><circle cx="1507.5" cy="519.8" r="12.5"/><circle cx="1500.6" cy="485.3" r="12.5"/><circle cx="1489.3" cy="656.2" r="12.5"/><circle cx="1500.5" cy="687.3" r="12.5"/><circle cx="1487.5" cy="772.5" r="12.5"/><circle cx="1483.4" cy="256.7" r="12.5"/><circle cx="1484.2" cy="554.6" r="12.5"/><circle cx="1495.6" cy="731.8" r="12.5"/><circle cx="1465.1" cy="627.4" r="12.5"/><circle cx="1460.4" cy="750.8" r="12.5"/><circle cx="1462.3" cy="951.1" r="12.5"/><circle cx="1483.4" cy="336.7" r="12.5"/><circle cx="1494.8" cy="555.6" r="12.5"/><circle cx="1470.8" cy="757.5" r="12.5"/><circle cx="1481.2" cy="260.6" r="12.5"/><circle cx="1459.5" cy="824.8" r="12.5"/><circle cx="1439.3" cy="732.3" r="12.5"/><circle cx="1473.9" cy="668.9" r="12.5"/><circle cx="1447.0" cy="594.2" r="12.5"/><circle cx="1479.5" cy="630.4" r="12.5"/><circle cx="1500.7" cy="619.7" r="12.5"/><circle cx="1459.7" cy="609.3" r="12.5"/><circle cx="1493.7" cy="773.3" r="12.5"/><circle cx="1493.7" cy="891.4" r="12.5"/><circle cx="1429.6" cy="716.4" r="12.5"/><circle cx="1462.2" cy="697.5" r="12.5"/><circle cx="1437.3" cy="545.9" r="12.5"/><circle cx="1432.9" cy="631.5" r="12.5"/><circle cx="1495.1" cy="305.0" r="12.5"/><circle cx="1476.6" cy="523.7" r="12.5"/><circle cx="1474.4" cy="848.0" r="12.5"/><circle cx="1507.6" cy="627.2" r="12.5"/><circle cx="1443.9" cy="665.7" r="12.5"/><circle cx="1465.1" cy="781.0" r="12.5"/><circle cx="1480.8" cy="778.7" r="12.5"/><circle cx="1451.0" cy="514.6" r="12.5"/><circle cx="1473.8" cy="656.0" r="12.5"/><circle cx="1498.9" cy="685.3" r="12.5"/><circle cx="1448.8" cy="584.8" r="12.5"/><circle cx="1448.9" cy="803.4" r="12.5"/><circle cx="1456.0" cy="519.6" r="12.5"/><circle cx="1504.0" cy="562.6" r="12.5"/><circle cx="1509.4" cy="827.5" r="12.5"/><circle cx="1458.1" cy="646.9" r="12.5"/><circle cx="1441.4" cy="676.1" r="12.5"/><circle cx="1469.6" cy="531.8" r="12.5"/><circle cx="1500.3" cy="630.4" r="12.5"/><circle cx="1439.8" cy="752.6" r="12.5"/><circle cx="1502.3" cy="1050.0" r="12.5"/><circle cx="1506.1" cy="494.6" r="12.5"/><circle cx="1455.9" cy="745.7" r="12.5"/><circle cx="1485.0" cy="647.1" r="12.5"/><circle cx="1448.6" cy="537.4" r="12.5"/><circle cx="1445.6" cy="682.2" r="12.5"/><circle cx="1460.8" cy="626.4" r="12.5"/><circle cx="1507.5" cy="494.8" r="12.5"/><circle cx="1460.2" cy="541.8" r="12.5"/><circle cx="1454.8" cy="736.7" r="12.5"/><circle cx="1429.6" cy="974.4" r="12.5"/><circle cx="1432.5" cy="921.3" r="12.5"/><circle cx="1455.8" cy="366.4" r="12.5"/><circle cx="1470.8" cy="534.2" r="12.5"/><circle cx="1465.7" cy="541.4" r="12.5"/><circle cx="1480.8" cy="721.5" r="12.5"/><circle cx="1448.4" cy="595.1" r="12.5"/><circle cx="1471.3" cy="605.6" r="12.5"/><circle cx="1445.2" cy="465.1" r="12.5"/><circle cx="1437.2" cy="657.1" r="12.5"/><circle cx="1444.1" cy="702.3" r="12.5"/><circle cx="1507.4" cy="812.8" r="12.5"/><circle cx="1482.5" cy="647.6" r="12.5"/><circle cx="1480.6" cy="718.2" r="12.5"/><circle cx="1495.0" cy="635.1" r="12.5"/><circle cx="1466.7" cy="632.9" r="12.5"/><circle cx="1500.4" cy="482.5" r="12.5"/><circle cx="1503.7" cy="415.4" r="12.5"/><circle cx="1461.9" cy="395.7" r="12.5"/><circle cx="1491.3" cy="578.2" r="12.5"/><circle cx="1464.9" cy="494.5" r="12.5"/><circle cx="1472.4" cy="567.4" r="12.5"/><circle cx="1435.6" cy="579.9" r="12.5"/><circle cx="1436.6" cy="609.6" r="12.5"/><circle cx="1489.4" cy="606.5" r="12.5"/><circle cx="1502.2" cy="651.6" r="12.5"/><circle cx="1453.2" cy="902.6" r="12.5"/><circle cx="1433.6" cy="699.9" r="12.5"/><circle cx="1460.1" cy="1032.2" r="12.5"/><circle cx="1452.6" cy="579.0" r="12.5"/><circle cx="1505.1" cy="639.2" r="12.5"/><circle cx="1468.4" cy="553.4" r="12.5"/><circle cx="1451.4" cy="566.1" r="12.5"/><circle cx="1430.2" cy="465.0" r="12.5"/><circle cx="1474.2" cy="662.3" r="12.5"/><circle cx="1459.4" cy="363.3" r="12.5"/><circle cx="1509.2" cy="632.5" r="12.5"/><circle cx="1480.5" cy="581.6" r="12.5"/><circle cx="1487.1" cy="637.2" r="12.5"/><circle cx="1460.7" cy="658.1" r="12.5"/><circle cx="1427.9" cy="992.8" r="12.5"/><circle cx="1430.7" cy="1014.4" r="12.5"/><circle cx="1467.6" cy="524.3" r="12.5"/><circle cx="1438.6" cy="577.4" r="12.5"/><circle cx="1459.2" cy="878.9" r="12.5"/><circle cx="1439.1" cy="660.8" r="12.5"/><circle cx="1485.5" cy="458.6" r="12.5"/><circle cx="1465.7" cy="780.4" r="12.5"/><circle cx="1492.6" cy="854.8" r="12.5"/><circle cx="1431.7" cy="544.4" r="12.5"/><circle cx="1438.0" cy="649.4" r="12.5"/><circle cx="1491.9" cy="461.4" r="12.5"/><circle cx="1437.7" cy="767.9" r="12.5"/><circle cx="1430.3" cy="574.2" r="12.5"/><circle cx="1457.9" cy="459.8" r="12.5"/><circle cx="1458.0" cy="600.3" r="12.5"/><circle cx="1431.4" cy="387.2" r="12.5"/><circle cx="1488.2" cy="614.8" r="12.5"/><circle cx="1431.6" cy="773.1" r="12.5"/><circle cx="1437.7" cy="574.2" r="12.5"/><circle cx="1435.6" cy="711.5" r="12.5"/><circle cx="1495.9" cy="722.8" r="12.5"/><circle cx="1435.3" cy="473.4" r="12.5"/><circle cx="1432.8" cy="644.3" r="12.5"/><circle cx="1508.3" cy="617.4" r="12.5"/><circle cx="1450.1" cy="265.0" r="12.5"/><circle cx="1482.8" cy="756.2" r="12.5"/><circle cx="1509.3" cy="722.1" r="12.5"/><circle cx="1491.1" cy="592.2" r="12.5"/><circle cx="1486.3" cy="662.0" r="12.5"/><circle cx="1449.6" cy="219.4" r="12.5"/><circle cx="1469.8" cy="799.1" r="12.5"/><circle cx="1461.5" cy="459.9" r="12.5"/><circle cx="1466.6" cy="573.2" r="12.5"/><circle cx="1499.3" cy="637.2" r="12.5"/><circle cx="1433.9" cy="702.7" r="12.5"/><circle cx="1433.0" cy="675.1" r="12.5"/><circle cx="1442.4" cy="580.3" r="12.5"/><circle cx="1455.2" cy="560.6" r="12.5"/><circle cx="1461.3" cy="692.5" r="12.5"/><circle cx="1508.7" cy="695.4" r="12.5"/><circle cx="1490.8" cy="621.9" r="12.5"/><circle cx="1456.2" cy="432.1" r="12.5"/><circle cx="1478.8" cy="823.8" r="12.5"/><circle cx="1431.3" cy="556.2" r="12.5"/><circle cx="1443.6" cy="705.6" r="12.5"/><circle cx="1505.1" cy="609.0" r="12.5"/><circle cx="1495.0" cy="882.3" r="12.5"/><circle cx="1477.1" cy="713.6" r="12.5"/><circle cx="1468.9" cy="693.1" r="12.5"/><circle cx="1455.6" cy="502.3" r="12.5"/><circle cx="1503.4" cy="527.7" r="12.5"/><circle cx="1468.3" cy="743.5" r="12.5"/><circle cx="1476.1" cy="468.9" r="12.5"/><circle cx="1487.8" cy="598.6" r="12.5"/><circle cx="1479.4" cy="795.7" r="12.5"/><circle cx="1461.5" cy="432.2" r="12.5"/><circle cx="1489.9" cy="648.3" r="12.5"/><circle cx="1491.5" cy="626.0" r="12.5"/><circle cx="1463.2" cy="466.7" r="12.5"/><circle cx="1499.0" cy="736.0" r="12.5"/><circle cx="1438.1" cy="854.7" r="12.5"/><circle cx="1456.4" cy="647.3" r="12.5"/><circle cx="1480.6" cy="495.1" r="12.5"/><circle cx="1503.4" cy="617.6" r="12.5"/><circle cx="1489.9" cy="589.3" r="12.5"/><circle cx="1494.6" cy="976.7" r="12.5"/><circle cx="1472.3" cy="654.1" r="12.5"/><circle cx="1466.3" cy="799.1" r="12.5"/><circle cx="1487.8" cy="730.6" r="12.5"/><circle cx="1495.7" cy="927.8" r="12.5"/><circle cx="1454.1" cy="685.1" r="12.5"/><circle cx="1489.6" cy="678.3" r="12.5"/><circle cx="1440.3" cy="533.3" r="12.5"/><circle cx="1502.5" cy="679.9" r="12.5"/><circle cx="1497.3" cy="366.1" r="12.5"/><circle cx="1430.2" cy="605.4" r="12.5"/><circle cx="1469.0" cy="683.0" r="12.5"/><circle cx="1437.9" cy="687.0" r="12.5"/><circle cx="1476.0" cy="552.5" r="12.5"/><circle cx="1467.3" cy="559.6" r="12.5"/><circle cx="1476.6" cy="528.0" r="12.5"/><circle cx="1438.2" cy="585.8" r="12.5"/><circle cx="1445.7" cy="897.8" r="12.5"/><circle cx="1500.0" cy="662.9" r="12.5"/><circle cx="1454.0" cy="574.7" r="12.5"/><circle cx="1464.1" cy="747.1" r="12.5"/><circle cx="1460.9" cy="549.9" r="12.5"/><circle cx="1440.4" cy="716.2" r="12.5"/><circle cx="1450.6" cy="417.9" r="12.5"/><circle cx="1444.4" cy="889.6" r="12.5"/><circle cx="1477.8" cy="607.1" r="12.5"/><circle cx="1452.3" cy="748.2" r="12.5"/><circle cx="1458.9" cy="588.4" r="12.5"/><circle cx="1507.9" cy="467.3" r="12.5"/><circle cx="1508.1" cy="538.4" r="12.5"/><circle cx="1478.1" cy="635.5" r="12.5"/><circle cx="1452.5" cy="732.9" r="12.5"/><circle cx="1508.4" cy="621.0" r="12.5"/><circle cx="1444.4" cy="814.4" r="12.5"/><circle cx="1439.3" cy="671.1" r="12.5"/><circle cx="1499.2" cy="885.8" r="12.5"/><circle cx="1447.2" cy="521.5" r="12.5"/><circle cx="1456.9" cy="905.5" r="12.5"/><circle cx="1475.5" cy="640.1" r="12.5"/><circle cx="1443.7" cy="673.3" r="12.5"/><circle cx="1466.9" cy="722.4" r="12.5"/><circle cx="1440.0" cy="557.8" r="12.5"/><circle cx="1485.2" cy="650.5" r="12.5"/><circle cx="1491.5" cy="863.2" r="12.5"/><circle cx="1459.7" cy="634.5" r="12.5"/><circle cx="1471.4" cy="859.4" r="12.5"/><circle cx="1505.7" cy="952.2" r="12.5"/><circle cx="1444.7" cy="709.4" r="12.5"/><circle cx="1440.7" cy="875.0" r="12.5"/><circle cx="1453.1" cy="505.6" r="12.5"/><circle cx="1463.4" cy="707.6" r="12.5"/><circle cx="1445.6" cy="633.6" r="12.5"/><circle cx="1501.0" cy="920.2" r="12.5"/><circle cx="1458.3" cy="869.5" r="12.5"/><circle cx="1505.0" cy="676.9" r="12.5"/><circle cx="1461.8" cy="436.6" r="12.5"/><circle cx="1486.8" cy="638.9" r="12.5"/><circle cx="1461.2" cy="728.0" r="12.5"/><circle cx="1446.4" cy="674.9" r="12.5"/><circle cx="1460.0" cy="562.1" r="12.5"/><circle cx="1472.9" cy="602.4" r="12.5"/><circle cx="1476.2" cy="531.1" r="12.5"/><circle cx="1494.6" cy="331.1" r="12.5"/><circle cx="1429.1" cy="448.7" r="12.5"/><circle cx="1438.3" cy="405.1" r="12.5"/><circle cx="1490.3" cy="621.0" r="12.5"/><circle cx="1499.5" cy="511.6" r="12.5"/><circle cx="1474.9" cy="704.9" r="12.5"/><circle cx="1497.9" cy="848.0" r="12.5"/><circle cx="1485.1" cy="659.0" r="12.5"/><circle cx="1449.5" cy="626.0" r="12.5"/><circle cx="1464.9" cy="721.1" r="12.5"/><circle cx="1497.8" cy="812.2" r="12.5"/><circle cx="1438.4" cy="425.9" r="12.5"/><circle cx="1501.6" cy="736.2" r="12.5"/><circle cx="1464.8" cy="702.4" r="12.5"/><circle cx="1441.6" cy="674.7" r="12.5"/><circle cx="1474.5" cy="690.5" r="12.5"/><circle cx="1430.6" cy="617.3" r="12.5"/><circle cx="1450.8" cy="869.7" r="12.5"/><circle cx="1452.9" cy="795.1" r="12.5"/><circle cx="1459.8" cy="617.7" r="12.5"/><circle cx="1431.5" cy="563.4" r="12.5"/><circle cx="1474.1" cy="400.0" r="12.5"/><circle cx="1481.2" cy="693.7" r="12.5"/><circle cx="1472.0" cy="718.6" r="12.5"/><circle cx="1482.5" cy="628.7" r="12.5"/><circle cx="1501.4" cy="632.0" r="12.5"/><circle cx="1500.5" cy="701.0" r="12.5"/><circle cx="1489.6" cy="848.5" r="12.5"/><circle cx="1487.1" cy="614.4" r="12.5"/><circle cx="1478.9" cy="355.8" r="12.5"/><circle cx="1449.3" cy="770.3" r="12.5"/><circle cx="1447.4" cy="662.5" r="12.5"/><circle cx="1450.3" cy="609.2" r="12.5"/><circle cx="1438.6" cy="846.6" r="12.5"/><circle cx="1490.0" cy="594.7" r="12.5"/><circle cx="1483.0" cy="474.5" r="12.5"/><circle cx="1431.2" cy="831.1" r="12.5"/><circle cx="1508.4" cy="791.2" r="12.5"/><circle cx="1464.1" cy="512.8" r="12.5"/><circle cx="1450.0" cy="726.2" r="12.5"/><circle cx="1448.1" cy="562.2" r="12.5"/><circle cx="1475.8" cy="573.1" r="12.5"/><circle cx="1462.0" cy="642.7" r="12.5"/><circle cx="1440.6" cy="709.6" r="12.5"/><circle cx="1453.3" cy="806.9" r="12.5"/><circle cx="1436.5" cy="556.0" r="12.5"/><circle cx="1449.8" cy="437.0" r="12.5"/><circle cx="1474.4" cy="657.8" r="12.5"/><circle cx="1475.5" cy="905.2" r="12.5"/><circle cx="1476.6" cy="702.8" r="12.5"/><circle cx="1463.4" cy="273.3" r="12.5"/><circle cx="1462.5" cy="654.5" r="12.5"/><circle cx="1500.7" cy="709.6" r="12.5"/><circle cx="1476.9" cy="502.7" r="12.5"/><circle cx="1449.4" cy="560.5" r="12.5"/><circle cx="1428.5" cy="628.4" r="12.5"/><circle cx="1440.1" cy="610.0" r="12.5"/><circle cx="1489.5" cy="716.3" r="12.5"/><circle cx="1481.8" cy="604.9" r="12.5"/><circle cx="1441.1" cy="631.0" r="12.5"/><circle cx="1472.5" cy="636.4" r="12.5"/><circle cx="1503.8" cy="839.1" r="12.5"/><circle cx="1431.5" cy="660.0" r="12.5"/><circle cx="1465.3" cy="612.6" r="12.5"/><circle cx="1497.3" cy="239.4" r="12.5"/><circle cx="1436.9" cy="539.5" r="12.5"/><circle cx="1462.6" cy="913.0" r="12.5"/><circle cx="1479.2" cy="546.7" r="12.5"/><circle cx="1453.0" cy="642.1" r="12.5"/><circle cx="1501.8" cy="932.2" r="12.5"/><circle cx="1467.4" cy="394.6" r="12.5"/><circle cx="1468.3" cy="506.1" r="12.5"/><circle cx="1470.3" cy="644.7" r="12.5"/><circle cx="1439.7" cy="674.1" r="12.5"/><circle cx="1475.1" cy="709.2" r="12.5"/><circle cx="1484.4" cy="668.2" r="12.5"/><circle cx="1458.7" cy="681.0" r="12.5"/><circle cx="1508.2" cy="751.8" r="12.5"/><circle cx="1449.1" cy="547.4" r="12.5"/><circle cx="1440.8" cy="497.3" r="12.5"/><circle cx="1478.0" cy="796.3" r="12.5"/><circle cx="1453.8" cy="515.7" r="12.5"/><circle cx="1436.3" cy="840.1" r="12.5"/><circle cx="1451.8" cy="601.5" r="12.5"/><circle cx="1460.3" cy="607.5" r="12.5"/><circle cx="1467.3" cy="559.1" r="12.5"/><circle cx="1464.5" cy="463.6" r="12.5"/><circle cx="1504.2" cy="674.5" r="12.5"/><circle cx="1454.0" cy="485.0" r="12.5"/><circle cx="1467.2" cy="549.8" r="12.5"/><circle cx="1508.5" cy="846.6" r="12.5"/><circle cx="1488.2" cy="534.5" r="12.5"/><circle cx="1431.0" cy="503.0" r="12.5"/><circle cx="1464.0" cy="623.8" r="12.5"/><circle cx="1443.9" cy="671.6" r="12.5"/><circle cx="1506.0" cy="442.8" r="12.5"/><circle cx="1464.4" cy="475.6" r="12.5"/><circle cx="1463.1" cy="793.8" r="12.5"/><circle cx="1472.0" cy="707.1" r="12.5"/><circle cx="1452.4" cy="768.0" r="12.5"/><circle cx="1459.7" cy="715.6" r="12.5"/><circle cx="1491.8" cy="754.4" r="12.5"/><circle cx="1446.3" cy="819.9" r="12.5"/><circle cx="1488.0" cy="562.8" r="12.5"/><circle cx="1434.8" cy="742.8" r="12.5"/><circle cx="1439.4" cy="860.0" r="12.5"/><circle cx="1455.5" cy="830.3" r="12.5"/><circle cx="1462.6" cy="785.9" r="12.5"/><circle cx="1438.2" cy="646.6" r="12.5"/><circle cx="1507.4" cy="426.4" r="12.5"/><circle cx="1508.0" cy="615.9" r="12.5"/><circle cx="1494.6" cy="692.3" r="12.5"/><circle cx="1464.2" cy="504.4" r="12.5"/><circle cx="1509.5" cy="835.2" r="12.5"/><circle cx="1456.2" cy="612.7" r="12.5"/><circle cx="1469.3" cy="563.0" r="12.5"/><circle cx="1480.0" cy="818.0" r="12.5"/><circle cx="1464.4" cy="847.1" r="12.5"/><circle cx="1487.8" cy="667.2" r="12.5"/><circle cx="1435.1" cy="566.4" r="12.5"/><circle cx="1446.8" cy="290.6" r="12.5"/><circle cx="1440.8" cy="594.4" r="12.5"/><circle cx="1446.8" cy="502.4" r="12.5"/><circle cx="1475.7" cy="682.9" r="12.5"/><circle cx="1456.0" cy="466.1" r="12.5"/><circle cx="1439.9" cy="707.2" r="12.5"/><circle cx="1492.5" cy="447.8" r="12.5"/><circle cx="1461.5" cy="638.7" r="12.5"/><circle cx="1464.1" cy="608.3" r="12.5"/><circle cx="1466.2" cy="357.3" r="12.5"/><circle cx="1456.3" cy="828.4" r="12.5"/><circle cx="1449.8" cy="537.7" r="12.5"/><circle cx="1454.6" cy="729.4" r="12.5"/><circle cx="1504.6" cy="620.3" r="12.5"/><circle cx="1496.0" cy="871.0" r="12.5"/><circle cx="1503.6" cy="784.0" r="12.5"/><circle cx="1477.4" cy="685.6" r="12.5"/><circle cx="1496.1" cy="410.5" r="12.5"/><circle cx="1431.2" cy="597.5" r="12.5"/><circle cx="1493.9" cy="801.1" r="12.5"/><circle cx="1477.2" cy="502.0" r="12.5"/><circle cx="1485.8" cy="587.6" r="12.5"/><circle cx="1503.5" cy="867.9" r="12.5"/><circle cx="1479.1" cy="848.6" r="12.5"/><circle cx="1444.8" cy="526.7" r="12.5"/><circle cx="1444.2" cy="664.5" r="12.5"/><circle cx="1437.4" cy="540.1" r="12.5"/><circle cx="1457.3" cy="842.8" r="12.5"/><circle cx="1440.4" cy="546.7" r="12.5"/><circle cx="1444.6" cy="917.9" r="12.5"/><circle cx="1431.9" cy="615.7" r="12.5"/><circle cx="1476.3" cy="550.7" r="12.5"/><circle cx="1436.2" cy="770.4" r="12.5"/><circle cx="1458.3" cy="573.8" r="12.5"/><circle cx="1468.3" cy="660.6" r="12.5"/><circle cx="1501.0" cy="510.3" r="12.5"/><circle cx="1440.4" cy="745.8" r="12.5"/><circle cx="1467.5" cy="556.8" r="12.5"/><circle cx="1452.6" cy="685.4" r="12.5"/><circle cx="1436.9" cy="680.1" r="12.5"/><circle cx="1470.4" cy="611.9" r="12.5"/><circle cx="1434.6" cy="472.3" r="12.5"/><circle cx="1494.5" cy="487.2" r="12.5"/><circle cx="1469.7" cy="880.9" r="12.5"/><circle cx="1431.7" cy="822.9" r="12.5"/><circle cx="1494.2" cy="705.0" r="12.5"/><circle cx="1452.5" cy="545.0" r="12.5"/><circle cx="1445.9" cy="590.3" r="12.5"/><circle cx="1490.5" cy="480.1" r="12.5"/><circle cx="1463.2" cy="528.3" r="12.5"/><circle cx="1507.9" cy="483.6" r="12.5"/><circle cx="1438.4" cy="948.9" r="12.5"/><circle cx="1478.4" cy="545.4" r="12.5"/><circle cx="1459.5" cy="395.3" r="12.5"/><circle cx="1476.4" cy="674.3" r="12.5"/><circle cx="1470.7" cy="450.9" r="12.5"/><circle cx="1508.5" cy="487.1" r="12.5"/><circle cx="1472.7" cy="730.7" r="12.5"/><circle cx="1467.0" cy="728.2" r="12.5"/><circle cx="1497.2" cy="559.8" r="12.5"/><circle cx="1474.6" cy="484.9" r="12.5"/><circle cx="1509.1" cy="480.5" r="12.5"/><circle cx="1435.5" cy="827.4" r="12.5"/><circle cx="1435.7" cy="463.5" r="12.5"/><circle cx="1490.7" cy="492.6" r="12.5"/><circle cx="1453.2" cy="784.6" r="12.5"/><circle cx="1476.4" cy="737.9" r="12.5"/><circle cx="1475.1" cy="589.4" r="12.5"/><circle cx="1453.2" cy="557.1" r="12.5"/><circle cx="1468.4" cy="912.4" r="12.5"/><circle cx="1473.4" cy="215.0" r="12.5"/><circle cx="1479.5" cy="808.9" r="12.5"/><circle cx="1503.4" cy="612.2" r="12.5"/><circle cx="1448.0" cy="510.2" r="12.5"/><circle cx="1449.2" cy="775.4" r="12.5"/><circle cx="1500.6" cy="439.8" r="12.5"/><circle cx="1479.6" cy="493.5" r="12.5"/><circle cx="1488.1" cy="611.4" r="12.5"/><circle cx="1493.8" cy="762.8" r="12.5"/><circle cx="1495.2" cy="363.9" r="12.5"/><circle cx="1486.0" cy="497.0" r="12.5"/><circle cx="1505.6" cy="470.9" r="12.5"/><circle cx="1437.6" cy="510.0" r="12.5"/><circle cx="1467.8" cy="722.1" r="12.5"/><circle cx="1434.1" cy="877.2" r="12.5"/><circle cx="1500.1" cy="667.0" r="12.5"/><circle cx="1493.2" cy="621.0" r="12.5"/><circle cx="1450.1" cy="518.1" r="12.5"/><circle cx="1430.6" cy="767.6" r="12.5"/><circle cx="1461.3" cy="764.7" r="12.5"/><circle cx="1437.1" cy="623.5" r="12.5"/><circle cx="1451.4" cy="631.1" r="12.5"/><circle cx="1464.4" cy="804.5" r="12.5"/><circle cx="1472.3" cy="607.8" r="12.5"/><circle cx="1474.3" cy="530.3" r="12.5"/><circle cx="1492.1" cy="642.5" r="12.5"/><circle cx="1434.2" cy="624.0" r="12.5"/><circle cx="1439.6" cy="813.7" r="12.5"/><circle cx="1481.6" cy="655.5" r="12.5"/><circle cx="1486.6" cy="504.1" r="12.5"/><circle cx="1454.4" cy="508.4" r="12.5"/><circle cx="1478.7" cy="624.6" r="12.5"/><circle cx="1490.4" cy="74.2" r="12.5"/><circle cx="1472.1" cy="748.9" r="12.5"/><circle cx="1441.7" cy="559.1" r="12.5"/><circle cx="1452.3" cy="330.0" r="12.5"/><circle cx="1486.1" cy="697.1" r="12.5"/><circle cx="1469.3" cy="663.4" r="12.5"/><circle cx="1504.4" cy="705.1" r="12.5"/><circle cx="1438.1" cy="522.4" r="12.5"/><circle cx="1435.9" cy="453.1" r="12.5"/><circle cx="1507.3" cy="440.6" r="12.5"/><circle cx="1503.0" cy="915.5" r="12.5"/><circle cx="1453.8" cy="343.4" r="12.5"/><circle cx="1494.2" cy="716.9" r="12.5"/><circle cx="1447.0" cy="562.0" r="12.5"/><circle cx="1489.0" cy="918.8" r="12.5"/><circle cx="1478.5" cy="717.0" r="12.5"/><circle cx="1432.3" cy="619.1" r="12.5"/><circle cx="1483.7" cy="578.2" r="12.5"/><circle cx="1486.4" cy="663.4" r="12.5"/><circle cx="1446.8" cy="945.6" r="12.5"/><circle cx="1492.0" cy="816.9" r="12.5"/><circle cx="1464.2" cy="1139.2" r="12.5"/><circle cx="1462.5" cy="797.5" r="12.5"/><circle cx="1502.6" cy="475.1" r="12.5"/><circle cx="1497.4" cy="537.5" r="12.5"/><circle cx="1457.4" cy="662.9" r="12.5"/><circle cx="1505.8" cy="855.7" r="12.5"/><circle cx="1457.3" cy="446.7" r="12.5"/><circle cx="1484.9" cy="661.3" r="12.5"/><circle cx="1471.6" cy="674.1" r="12.5"/><circle cx="1438.9" cy="605.2" r="12.5"/><circle cx="1450.1" cy="680.6" r="12.5"/><circle cx="1442.4" cy="613.9" r="12.5"/><circle cx="1474.0" cy="424.9" r="12.5"/><circle cx="1455.2" cy="776.2" r="12.5"/><circle cx="1478.3" cy="548.5" r="12.5"/><circle cx="1438.2" cy="545.3" r="12.5"/><circle cx="1491.6" cy="356.1" r="12.5"/><circle cx="1479.9" cy="596.8" r="12.5"/><circle cx="1477.7" cy="465.5" r="12.5"/><circle cx="1433.7" cy="757.9" r="12.5"/><circle cx="1479.8" cy="829.5" r="12.5"/><circle cx="1492.5" cy="672.4" r="12.5"/><circle cx="1431.5" cy="702.9" r="12.5"/><circle cx="1508.6" cy="435.6" r="12.5"/><circle cx="1487.2" cy="754.2" r="12.5"/><circle cx="1486.1" cy="359.3" r="12.5"/><circle cx="1455.0" cy="498.2" r="12.5"/><circle cx="1451.6" cy="649.6" r="12.5"/><circle cx="1483.9" cy="668.9" r="12.5"/><circle cx="1481.6" cy="624.3" r="12.5"/><circle cx="1449.3" cy="556.3" r="12.5"/><circle cx="1492.6" cy="632.5" r="12.5"/><circle cx="1458.3" cy="756.4" r="12.5"/><circle cx="1486.7" cy="747.1" r="12.5"/><circle cx="1460.7" cy="661.2" r="12.5"/><circle cx="1453.6" cy="407.9" r="12.5"/><circle cx="1503.4" cy="644.5" r="12.5"/><circle cx="1454.2" cy="655.5" r="12.5"/><circle cx="1507.3" cy="518.2" r="12.5"/><circle cx="1435.8" cy="483.7" r="12.5"/><circle cx="1497.9" cy="615.6" r="12.5"/><circle cx="1450.8" cy="600.9" r="12.5"/><circle cx="1471.6" cy="740.5" r="12.5"/><circle cx="1434.8" cy="392.3" r="12.5"/><circle cx="1442.8" cy="845.2" r="12.5"/><circle cx="1485.4" cy="648.0" r="12.5"/><circle cx="1507.7" cy="664.2" r="12.5"/><circle cx="1486.1" cy="723.5" r="12.5"/><circle cx="1478.1" cy="742.4" r="12.5"/><circle cx="1453.0" cy="531.3" r="12.5"/><circle cx="1448.7" cy="849.9" r="12.5"/><circle cx="1443.1" cy="686.3" r="12.5"/><circle cx="1501.7" cy="468.1" r="12.5"/><circle cx="1463.1" cy="795.7" r="12.5"/><circle cx="1476.0" cy="365.3" r="12.5"/><circle cx="1454.3" cy="775.5" r="12.5"/><circle cx="1430.2" cy="708.0" r="12.5"/><circle cx="1507.3" cy="551.3" r="12.5"/><circle cx="1462.1" cy="517.3" r="12.5"/><circle cx="1457.9" cy="533.6" r="12.5"/><circle cx="1482.9" cy="393.1" r="12.5"/><circle cx="1434.2" cy="515.0" r="12.5"/><circle cx="1458.3" cy="583.0" r="12.5"/><circle cx="1435.4" cy="614.5" r="12.5"/><circle cx="1502.6" cy="671.7" r="12.5"/><circle cx="1449.5" cy="519.3" r="12.5"/><circle cx="1499.9" cy="604.5" r="12.5"/><circle cx="1442.7" cy="672.0" r="12.5"/><circle cx="1462.5" cy="800.0" r="12.5"/><circle cx="1431.0" cy="695.7" r="12.5"/><circle cx="1491.7" cy="525.4" r="12.5"/><circle cx="1505.3" cy="717.8" r="12.5"/><circle cx="1503.3" cy="895.1" r="12.5"/><circle cx="1504.4" cy="419.2" r="12.5"/><circle cx="1477.5" cy="624.5" r="12.5"/><circle cx="1454.2" cy="512.2" r="12.5"/><circle cx="1505.8" cy="765.5" r="12.5"/><circle cx="1447.8" cy="479.3" r="12.5"/><circle cx="1431.0" cy="832.0" r="12.5"/><circle cx="1486.0" cy="835.6" r="12.5"/><circle cx="1475.8" cy="493.3" r="12.5"/><circle cx="1444.2" cy="625.8" r="12.5"/><circle cx="1476.5" cy="732.3" r="12.5"/><circle cx="1505.6" cy="426.3" r="12.5"/><circle cx="1439.6" cy="580.3" r="12.5"/><circle cx="1460.7" cy="538.1" r="12.5"/><circle cx="1502.1" cy="568.4" r="12.5"/><circle cx="1507.1" cy="792.8" r="12.5"/><circle cx="1507.5" cy="688.4" r="12.5"/><circle cx="1478.1" cy="790.1" r="12.5"/><circle cx="1473.3" cy="536.7" r="12.5"/><circle cx="1485.6" cy="703.0" r="12.5"/><circle cx="1500.8" cy="354.6" r="12.5"/><circle cx="1433.7" cy="856.5" r="12.5"/><circle cx="1475.9" cy="779.0" r="12.5"/><circle cx="1441.6" cy="543.2" r="12.5"/><circle cx="1485.0" cy="589.7" r="12.5"/><circle cx="1505.2" cy="798.3" r="12.5"/><circle cx="1489.6" cy="779.6" r="12.5"/><circle cx="1487.7" cy="701.9" r="12.5"/><circle cx="1491.6" cy="570.1" r="12.5"/><circle cx="1484.7" cy="619.6" r="12.5"/><circle cx="1438.9" cy="723.3" r="12.5"/><circle cx="1462.6" cy="640.3" r="12.5"/><circle cx="1507.5" cy="498.2" r="12.5"/><circle cx="1477.5" cy="682.4" r="12.5"/><circle cx="1501.0" cy="503.0" r="12.5"/><circle cx="1491.3" cy="733.1" r="12.5"/><circle cx="1450.7" cy="565.3" r="12.5"/><circle cx="1429.5" cy="755.5" r="12.5"/><circle cx="1504.0" cy="506.4" r="12.5"/><circle cx="1453.4" cy="652.5" r="12.5"/><circle cx="1470.2" cy="609.3" r="12.5"/><circle cx="1440.6" cy="823.2" r="12.5"/><circle cx="1449.6" cy="227.2" r="12.5"/><circle cx="1472.7" cy="520.8" r="12.5"/><circle cx="1488.4" cy="520.5" r="12.5"/><circle cx="1464.6" cy="794.9" r="12.5"/><circle cx="1505.9" cy="429.9" r="12.5"/><circle cx="1471.8" cy="554.2" r="12.5"/><circle cx="1502.3" cy="340.0" r="12.5"/><circle cx="1466.6" cy="566.6" r="12.5"/><circle cx="1509.4" cy="556.7" r="12.5"/><circle cx="1494.4" cy="753.2" r="12.5"/><circle cx="1508.9" cy="559.9" r="12.5"/><circle cx="1497.1" cy="779.1" r="12.5"/><circle cx="1454.4" cy="410.7" r="12.5"/><circle cx="1508.6" cy="348.5" r="12.5"/><circle cx="1439.0" cy="762.3" r="12.5"/><circle cx="1468.4" cy="534.5" r="12.5"/><circle cx="1461.4" cy="345.6" r="12.5"/><circle cx="1506.1" cy="356.6" r="12.5"/><circle cx="1504.9" cy="695.3" r="12.5"/><circle cx="1490.4" cy="153.3" r="12.5"/><circle cx="1478.5" cy="770.0" r="12.5"/><circle cx="1478.8" cy="537.1" r="12.5"/><circle cx="1430.7" cy="604.5" r="12.5"/><circle cx="1501.3" cy="692.7" r="12.5"/><circle cx="1444.8" cy="491.2" r="12.5"/><circle cx="1468.3" cy="531.2" r="12.5"/><circle cx="1459.4" cy="846.3" r="12.5"/><circle cx="1443.9" cy="487.3" r="12.5"/><circle cx="1498.8" cy="889.9" r="12.5"/><circle cx="1496.6" cy="526.8" r="12.5"/><circle cx="1446.4" cy="904.8" r="12.5"/><circle cx="1481.2" cy="328.9" r="12.5"/><circle cx="1502.3" cy="850.7" r="12.5"/><circle cx="1477.2" cy="810.0" r="12.5"/><circle cx="1487.0" cy="675.8" r="12.5"/><circle cx="1475.1" cy="889.8" r="12.5"/><circle cx="1491.8" cy="500.8" r="12.5"/><circle cx="1481.2" cy="908.8" r="12.5"/><circle cx="1456.0" cy="415.5" r="12.5"/><circle cx="1481.7" cy="550.7" r="12.5"/><circle cx="1484.1" cy="860.9" r="12.5"/><circle cx="1486.3" cy="588.2" r="12.5"/><circle cx="1501.3" cy="458.3" r="12.5"/><circle cx="1476.2" cy="840.4" r="12.5"/><circle cx="1463.2" cy="539.1" r="12.5"/><circle cx="1497.3" cy="895.1" r="12.5"/><circle cx="1464.4" cy="638.8" r="12.5"/><circle cx="1445.4" cy="776.1" r="12.5"/><circle cx="1506.2" cy="467.0" r="12.5"/><circle cx="1472.0" cy="830.7" r="12.5"/><circle cx="1495.4" cy="604.1" r="12.5"/><circle cx="1440.1" cy="677.7" r="12.5"/><circle cx="1436.9" cy="879.3" r="12.5"/><circle cx="1458.4" cy="687.4" r="12.5"/><circle cx="1438.3" cy="866.0" r="12.5"/><circle cx="1433.2" cy="575.5" r="12.5"/><circle cx="1428.7" cy="649.4" r="12.5"/><circle cx="1452.6" cy="640.6" r="12.5"/><circle cx="1490.6" cy="429.1" r="12.5"/>
</g>
<g stroke="#333333" stroke-width="3.8" fill="none">
<line x1="435.0" x2="435.0" y1="125.9" y2="287.0"/><line x1="435.0" x2="435.0" y1="439.7" y2="668.5"/>
<rect x="357.4" y="287.0" width="155.2" height="152.7" fill="#ffffff" fill-opacity="0.2"/>
<line x1="357.4" x2="512.6" y1="355.9" y2="355.9" stroke-width="7.8"/>
</g>
<g stroke="#333333" stroke-width="3.8" fill="none">
<line x1="952.1" x2="952.1" y1="211.9" y2="297.0"/><line x1="952.1" x2="952.1" y1="456.8" y2="694.4"/>
<rect x="874.5" y="297.0" width="155.2" height="159.8" fill="#ffffff" fill-opacity="0.2"/>
<line x1="874.5" x2="1029.7" y1="362.8" y2="362.8" stroke-width="7.8"/>
</g>
<g stroke="#333333" stroke-width="3.8" fill="none">
<line x1="1469.0" x2="1469.0" y1="265.6" y2="542.0"/><line x1="1469.0" x2="1469.0" y1="727.7" y2="1005.6"/>
<rect x="1391.4" y="542.0" width="155.2" height="185.7" fill="#ffffff" fill-opacity="0.2"/>
<line x1="1391.4" x2="1546.6" y1="632.0" y2="632.0" stroke-width="7.8"/>
</g>
<path d="M423.3,125.9 L423.0,127.4 L422.7,129.6 L422.2,132.0 L421.7,134.4 L421.1,136.6 L420.4,138.8 L419.7,141.0 L418.9,143.3 L418.3,145.2 L417.6,147.3 L417.0,149.3 L416.3,151.4 L415.6,153.3 L414.8,155.6 L413.9,157.8 L413.1,160.0 L412.2,162.2 L411.3,164.4 L410.4,166.6 L409.4,168.8 L408.3,171.1 L407.4,173.1 L406.4,175.1 L405.4,177.2 L404.3,179.2 L403.3,181.1 L402.0,183.2 L400.7,185.1 L399.3,186.9 L397.8,188.9 L396.2,191.0 L394.6,193.2 L392.9,195.5 L391.1,197.8 L389.6,199.7 L388.1,201.7 L386.5,203.7 L384.9,205.8 L383.3,207.8 L381.8,209.8 L380.2,211.8 L378.7,213.8 L377.1,215.8 L375.6,217.8 L374.0,219.8 L372.5,221.8 L370.9,223.8 L369.4,225.8 L367.8,227.8 L366.2,229.8 L364.6,231.8 L363.0,233.8 L361.5,235.8 L360.0,237.8 L358.6,239.7 L357.2,241.6 L355.9,243.6 L354.6,245.6 L353.3,247.8 L352.3,249.5 L351.4,251.4 L350.4,253.4 L349.5,255.4 L348.5,257.4 L347.6,259.3 L346.7,261.1 L345.6,263.1 L344.6,265.0 L343.6,266.8 L342.6,268.6 L341.6,270.4 L340.6,272.2 L339.6,274.1 L338.7,275.9 L337.7,277.8 L336.8,279.6 L335.9,281.4 L335.0,283.3 L334.1,285.1 L333.3,287.0 L332.4,288.8 L331.6,290.7 L330.8,292.5 L330.0,294.4 L329.2,296.3 L328.5,298.1 L327.7,300.0 L327.0,301.9 L326.3,303.7 L325.6,305.6 L325.0,307.5 L324.4,309.3 L323.8,311.2 L323.2,313.0 L322.7,314.9 L322.2,316.7 L321.7,318.6 L321.3,320.4 L320.9,322.2 L320.5,324.1 L320.1,325.9 L319.8,327.8 L319.5,329.7 L319.2,331.5 L318.9,333.4 L318.7,335.2 L318.5,337.1 L318.3,338.9 L318.1,340.8 L318.0,342.6 L317.9,344.4 L317.9,346.3 L317.8,348.1 L317.8,350.0 L317.8,351.9 L317.8,353.7 L317.8,355.6 L317.9,357.4 L318.0,359.2 L318.1,361.1 L318.3,363.0 L318.4,364.8 L318.7,366.7 L318.9,368.5 L319.1,370.4 L319.4,372.2 L319.7,374.1 L319.9,375.9 L320.2,377.8 L320.5,379.6 L320.8,381.4 L321.2,383.3 L321.6,385.1 L322.1,386.9 L322.5,388.7 L323.1,390.5 L323.7,392.4 L324.4,394.4 L325.1,396.2 L325.9,398.2 L326.8,400.2 L327.7,402.3 L328.7,404.2 L329.6,406.1 L330.4,407.8 L331.7,410.3 L333.0,412.5 L334.2,414.6 L335.6,416.7 L337.1,418.9 L338.6,421.2 L340.2,423.4 L341.8,425.6 L343.5,427.8 L345.3,430.0 L347.2,432.2 L349.0,434.4 L350.9,436.6 L352.8,438.8 L354.6,441.1 L356.4,443.3 L358.1,445.5 L359.6,447.8 L361.1,450.0 L362.6,452.2 L364.0,454.4 L365.4,456.6 L366.8,458.9 L368.1,461.1 L369.4,463.3 L370.7,465.6 L371.9,467.8 L373.1,470.0 L374.2,472.2 L375.2,474.4 L376.2,476.7 L377.1,478.9 L378.0,481.1 L378.9,483.3 L379.7,485.6 L380.5,487.8 L381.2,490.0 L381.9,492.2 L382.6,494.5 L383.3,496.7 L384.0,498.9 L384.6,501.2 L385.3,503.4 L385.9,505.6 L386.5,507.8 L387.1,510.0 L387.7,512.2 L388.3,514.4 L388.9,516.6 L389.5,518.8 L390.0,521.1 L390.6,523.3 L391.1,525.5 L391.7,527.8 L392.2,530.0 L392.8,532.2 L393.4,534.4 L394.0,536.5 L394.7,538.7 L395.4,541.1 L396.0,542.8 L396.6,544.6 L397.2,546.5 L397.9,548.4 L398.6,550.3 L399.2,552.2 L399.8,554.1 L400.4,555.9 L401.0,557.8 L401.6,559.6 L402.1,561.5 L402.7,563.3 L403.3,565.1 L403.8,567.0 L404.4,568.8 L405.0,570.7 L405.5,572.5 L406.1,574.4 L406.7,576.3 L407.2,578.1 L407.8,580.0 L408.3,581.9 L408.8,583.7 L409.4,585.6 L410.0,587.5 L410.5,589.3 L411.1,591.2 L411.7,593.0 L412.2,594.9 L412.8,596.7 L413.4,598.6 L413.9,600.4 L414.5,602.2 L415.0,604.1 L415.6,606.0 L416.1,607.8 L416.6,609.6 L417.1,611.5 L417.6,613.3 L418.1,615.2 L418.5,617.0 L419.0,618.9 L419.5,620.8 L419.9,622.6 L420.4,624.5 L420.9,626.3 L421.3,628.1 L421.7,630.0 L422.1,631.9 L422.4,633.7 L422.8,635.5 L423.1,637.4 L423.4,639.2 L423.7,641.1 L424.0,643.0 L424.3,644.8 L424.5,646.7 L424.8,648.5 L425.0,650.4 L425.2,652.2 L425.4,654.0 L425.6,655.6 L425.8,657.3 L425.9,659.0 L426.1,661.0 L426.2,663.3 L426.3,665.0 L426.4,666.8 L426.4,668.7 L426.5,670.7 L426.6,672.8 L426.6,675.0 L426.7,677.3 L426.7,679.6 L426.8,682.0 L426.8,683.9 L426.9,685.8 L426.9,687.8 L427.0,689.9 L427.0,692.0 L427.0,694.1 L427.1,696.3 L427.1,698.4 L427.2,700.6 L427.2,702.8 L427.2,704.9 L427.3,707.0 L427.4,709.1 L427.4,711.2 L427.5,713.3 L427.5,715.4 L427.6,717.5 L427.7,719.6 L427.7,721.7 L427.8,723.7 L427.9,725.8 L427.9,727.9 L428.0,730.0 L428.1,732.0 L428.2,734.0 L428.3,736.1 L428.4,738.1 L428.5,740.2 L428.6,742.2 L428.7,744.2 L428.8,746.3 L428.9,748.3 L429.0,750.2 L429.1,752.2 L429.2,754.1 L429.3,756.0 L429.4,758.3 L429.5,760.5 L429.6,762.8 L429.8,765.1 L429.9,767.3 L430.0,769.4 L430.1,771.5 L430.2,773.4 L430.3,775.3 L430.4,777.0 L430.5,779.6 L430.7,782.1 L430.8,784.3 L430.9,786.2 L431.0,787.7 L431.1,788.9 L438.9,788.9 L439.0,787.7 L439.1,786.2 L439.2,784.3 L439.3,782.1 L439.5,779.6 L439.6,777.0 L439.7,775.3 L439.8,773.4 L439.9,771.5 L440.0,769.4 L440.1,767.3 L440.2,765.1 L440.4,762.8 L440.5,760.5 L440.6,758.3 L440.7,756.0 L440.8,754.1 L440.9,752.2 L441.0,750.2 L441.1,748.3 L441.2,746.3 L441.3,744.2 L441.4,742.2 L441.5,740.2 L441.6,738.1 L441.7,736.1 L441.8,734.0 L441.9,732.0 L442.0,730.0 L442.1,727.9 L442.1,725.8 L442.2,723.7 L442.3,721.7 L442.3,719.6 L442.4,717.5 L442.5,715.4 L442.5,713.3 L442.6,711.2 L442.6,709.1 L442.7,707.0 L442.8,704.9 L442.8,702.8 L442.8,700.6 L442.9,698.4 L442.9,696.3 L443.0,694.1 L443.0,692.0 L443.0,689.9 L443.1,687.8 L443.1,685.8 L443.2,683.9 L443.2,682.0 L443.3,679.6 L443.3,677.3 L443.4,675.0 L443.4,672.8 L443.5,670.7 L443.6,668.7 L443.6,666.8 L443.7,665.0 L443.8,663.3 L443.9,661.0 L444.1,659.0 L444.2,657.3 L444.4,655.6 L444.6,654.0 L444.8,652.2 L445.0,650.4 L445.2,648.5 L445.5,646.7 L445.7,644.8 L446.0,643.0 L446.3,641.1 L446.6,639.2 L446.9,637.4 L447.2,635.5 L447.6,633.7 L447.9,631.9 L448.3,630.0 L448.7,628.1 L449.1,626.3 L449.6,624.5 L450.1,622.6 L450.5,620.8 L451.0,618.9 L451.5,617.0 L451.9,615.2 L452.4,613.3 L452.9,611.5 L453.4,609.6 L453.9,607.8 L454.4,606.0 L455.0,604.1 L455.5,602.2 L456.1,600.4 L456.6,598.6 L457.2,596.7 L457.8,594.9 L458.3,593.0 L458.9,591.2 L459.5,589.3 L460.0,587.5 L460.6,585.6 L461.2,583.7 L461.7,581.9 L462.2,580.0 L462.8,578.1 L463.3,576.3 L463.9,574.4 L464.5,572.5 L465.0,570.7 L465.6,568.8 L466.2,567.0 L466.7,565.1 L467.3,563.3 L467.9,561.5 L468.4,559.6 L469.0,557.8 L469.6,555.9 L470.2,554.1 L470.8,552.2 L471.4,550.3 L472.1,548.4 L472.8,546.5 L473.4,544.6 L474.0,542.8 L474.6,541.1 L475.3,538.7 L476.0,536.5 L476.6,534.4 L477.2,532.2 L477.8,530.0 L478.3,527.8 L478.9,525.5 L479.4,523.3 L480.0,521.1 L480.5,518.8 L481.1,516.6 L481.7,514.4 L482.3,512.2 L482.9,510.0 L483.5,507.8 L484.1,505.6 L484.7,503.4 L485.4,501.2 L486.0,498.9 L486.7,496.7 L487.4,494.5 L488.1,492.2 L488.8,490.0 L489.5,487.8 L490.3,485.6 L491.1,483.3 L492.0,481.1 L492.9,478.9 L493.8,476.7 L494.8,474.4 L495.8,472.2 L496.9,470.0 L498.1,467.8 L499.3,465.6 L500.6,463.3 L501.9,461.1 L503.2,458.9 L504.6,456.6 L506.0,454.4 L507.4,452.2 L508.9,450.0 L510.4,447.8 L511.9,445.5 L513.6,443.3 L515.4,441.1 L517.2,438.8 L519.1,436.6 L521.0,434.4 L522.8,432.2 L524.7,430.0 L526.5,427.8 L528.2,425.6 L529.8,423.4 L531.4,421.2 L532.9,418.9 L534.4,416.7 L535.8,414.6 L537.0,412.5 L538.3,410.3 L539.6,407.8 L540.4,406.1 L541.3,404.2 L542.3,402.3 L543.2,400.2 L544.1,398.2 L544.9,396.2 L545.6,394.4 L546.3,392.4 L546.9,390.5 L547.5,388.7 L547.9,386.9 L548.4,385.1 L548.8,383.3 L549.2,381.4 L549.5,379.6 L549.8,377.8 L550.1,375.9 L550.3,374.1 L550.6,372.2 L550.9,370.4 L551.1,368.5 L551.3,366.7 L551.6,364.8 L551.7,363.0 L551.9,361.1 L552.0,359.2 L552.1,357.4 L552.2,355.6 L552.2,353.7 L552.2,351.9 L552.2,350.0 L552.2,348.1 L552.1,346.3 L552.1,344.4 L552.0,342.6 L551.9,340.8 L551.7,338.9 L551.5,337.1 L551.3,335.2 L551.1,333.4 L550.8,331.5 L550.5,329.7 L550.2,327.8 L549.9,325.9 L549.5,324.1 L549.1,322.2 L548.7,320.4 L548.3,318.6 L547.8,316.7 L547.3,314.9 L546.8,313.0 L546.2,311.2 L545.6,309.3 L545.0,307.5 L544.4,305.6 L543.7,303.7 L543.0,301.9 L542.3,300.0 L541.5,298.1 L540.8,296.3 L540.0,294.4 L539.2,292.5 L538.4,290.7 L537.6,288.8 L536.7,287.0 L535.9,285.1 L535.0,283.3 L534.1,281.4 L533.2,279.6 L532.3,277.8 L531.3,275.9 L530.4,274.1 L529.4,272.2 L528.4,270.4 L527.4,268.6 L526.4,266.8 L525.4,265.0 L524.4,263.1 L523.3,261.1 L522.4,259.3 L521.5,257.4 L520.5,255.4 L519.6,253.4 L518.6,251.4 L517.7,249.5 L516.7,247.8 L515.4,245.6 L514.1,243.6 L512.8,241.6 L511.4,239.7 L510.0,237.8 L508.5,235.8 L507.0,233.8 L505.4,231.8 L503.8,229.8 L502.2,227.8 L500.6,225.8 L499.1,223.8 L497.5,221.8 L496.0,219.8 L494.4,217.8 L492.9,215.8 L491.3,213.8 L489.8,211.8 L488.2,209.8 L486.7,207.8 L485.1,205.8 L483.5,203.7 L481.9,201.7 L480.4,199.7 L478.9,197.8 L477.1,195.5 L475.4,193.2 L473.8,191.0 L472.2,188.9 L470.7,186.9 L469.3,185.1 L468.0,183.2 L466.7,181.1 L465.7,179.2 L464.6,177.2 L463.6,175.1 L462.6,173.1 L461.7,171.1 L460.6,168.8 L459.6,166.6 L458.7,164.4 L457.8,162.2 L456.9,160.0 L456.1,157.8 L455.2,155.6 L454.4,153.3 L453.7,151.4 L453.0,149.3 L452.4,147.3 L451.7,145.2 L451.1,143.3 L450.3,141.0 L449.6,138.8 L448.9,136.6 L448.3,134.4 L447.8,132.0 L447.3,129.6 L447.0,127.4 L446.7,125.9 Z" fill="#ffffff" fill-opacity="0.2" stroke="#333333" stroke-width="4" stroke-linejoin="miter"/>
<path d="M907.7,212.0 L905.8,213.3 L903.0,215.1 L900.1,217.2 L897.9,219.0 L895.6,220.9 L893.3,223.0 L891.0,225.0 L888.8,226.9 L886.5,228.9 L884.3,230.8 L882.1,232.8 L879.9,234.7 L877.6,236.7 L875.4,238.6 L873.2,240.6 L871.0,242.6 L868.8,244.7 L866.5,246.8 L864.3,248.9 L862.1,251.0 L859.9,253.0 L857.6,255.1 L855.4,257.2 L853.1,259.4 L850.9,261.7 L848.6,263.9 L846.5,266.1 L844.5,268.2 L842.5,270.3 L840.6,272.3 L838.8,274.4 L837.1,276.5 L835.6,278.6 L834.1,280.7 L832.7,282.8 L831.3,285.0 L830.0,287.2 L828.8,289.5 L827.7,291.7 L826.7,293.9 L825.8,296.2 L825.0,298.4 L824.3,300.6 L823.7,302.8 L823.2,305.0 L822.7,307.2 L822.4,309.4 L822.1,311.6 L821.9,313.8 L821.8,316.1 L821.8,318.3 L821.8,320.5 L821.9,322.8 L822.1,325.0 L822.4,327.2 L822.8,329.4 L823.2,331.6 L823.7,333.9 L824.3,336.1 L824.9,338.3 L825.5,340.5 L826.1,342.7 L826.9,345.0 L827.6,346.9 L828.3,348.9 L829.1,350.9 L830.0,353.0 L830.8,355.0 L831.7,357.0 L832.6,359.0 L833.5,361.0 L834.4,363.0 L835.4,365.0 L836.4,367.0 L837.5,369.0 L838.5,371.0 L839.6,373.0 L840.8,375.0 L842.0,377.0 L843.2,379.0 L844.5,381.0 L845.8,383.0 L847.1,385.0 L848.4,387.0 L849.8,389.0 L851.1,391.0 L852.5,393.0 L853.8,395.0 L855.1,397.0 L856.5,399.0 L857.8,401.0 L859.1,403.0 L860.4,405.0 L861.7,407.0 L862.9,409.0 L864.1,411.0 L865.3,413.0 L866.5,415.0 L867.7,417.0 L868.8,419.0 L870.0,421.0 L871.1,423.0 L872.1,425.0 L873.1,427.0 L874.0,429.0 L874.8,431.0 L875.7,433.0 L876.5,435.0 L877.3,437.0 L878.1,439.0 L878.9,441.0 L879.6,443.0 L880.4,445.0 L881.2,447.0 L882.0,449.0 L882.7,451.0 L883.5,453.0 L884.3,455.0 L885.1,457.0 L885.9,459.0 L886.6,461.0 L887.4,463.0 L888.2,465.0 L889.0,467.0 L889.8,468.9 L890.6,470.9 L891.4,472.9 L892.3,475.0 L893.1,476.8 L893.9,478.6 L894.7,480.5 L895.5,482.4 L896.3,484.2 L897.1,486.1 L897.9,488.0 L898.6,489.8 L899.3,491.7 L900.0,493.5 L900.8,495.4 L901.5,497.2 L902.2,499.1 L903.0,500.9 L903.8,502.8 L904.5,504.6 L905.3,506.4 L906.0,508.3 L906.7,510.1 L907.4,512.0 L908.1,513.8 L908.8,515.7 L909.4,517.5 L910.1,519.4 L910.7,521.3 L911.4,523.1 L912.0,525.0 L912.6,526.9 L913.2,528.7 L913.8,530.6 L914.4,532.5 L915.0,534.3 L915.6,536.2 L916.2,538.0 L916.8,539.9 L917.4,541.7 L918.0,543.6 L918.5,545.4 L919.0,547.2 L919.5,549.1 L920.1,551.0 L920.6,552.8 L921.1,554.6 L921.7,556.5 L922.2,558.3 L922.7,560.2 L923.3,562.0 L923.8,563.9 L924.3,565.8 L924.8,567.6 L925.3,569.5 L925.8,571.3 L926.3,573.1 L926.8,575.0 L927.3,576.9 L927.8,578.7 L928.3,580.5 L928.9,582.4 L929.4,584.2 L929.9,586.1 L930.4,588.0 L930.9,589.8 L931.5,591.7 L932.0,593.5 L932.5,595.4 L933.0,597.2 L933.5,599.1 L933.9,600.9 L934.4,602.8 L934.8,604.6 L935.3,606.5 L935.7,608.3 L936.1,610.2 L936.5,612.2 L937.0,614.1 L937.4,616.0 L937.7,617.8 L938.0,619.4 L938.4,621.8 L938.6,623.7 L938.9,626.1 L939.1,627.7 L939.3,629.5 L939.4,631.4 L939.6,633.3 L939.8,635.3 L939.9,637.2 L940.0,639.1 L940.0,640.9 L940.1,642.8 L940.1,644.6 L940.1,646.5 L940.1,648.3 L940.1,650.1 L940.1,652.0 L940.1,653.8 L940.0,655.7 L940.0,657.5 L939.9,659.4 L939.8,661.3 L939.7,663.1 L939.5,665.0 L939.4,666.9 L939.2,668.7 L939.1,670.6 L939.0,672.5 L938.8,674.3 L938.6,676.2 L938.5,678.0 L938.3,679.9 L938.2,681.7 L938.1,683.6 L937.9,685.4 L937.8,687.2 L937.6,689.1 L937.5,691.0 L937.4,692.8 L937.3,694.6 L937.2,696.5 L937.1,698.3 L937.0,700.2 L937.0,702.0 L936.9,703.9 L936.9,705.8 L936.8,707.6 L936.8,709.5 L936.8,711.3 L936.8,713.1 L936.9,715.0 L937.0,716.9 L937.1,718.7 L937.3,720.5 L937.5,722.4 L937.7,724.2 L937.9,726.1 L938.1,728.0 L938.3,729.8 L938.6,731.7 L938.8,733.5 L939.0,735.4 L939.3,737.2 L939.6,739.1 L939.9,741.0 L940.1,742.9 L940.4,744.8 L940.7,746.6 L941.0,748.3 L941.4,750.6 L941.7,752.8 L942.1,754.9 L942.5,757.0 L942.8,758.8 L943.2,760.5 L943.6,762.3 L943.9,764.1 L944.3,766.1 L944.6,767.8 L944.9,769.7 L945.2,771.5 L945.5,773.4 L945.8,775.3 L946.0,777.2 L946.2,778.9 L946.4,780.3 L946.6,781.8 L946.8,783.4 L946.9,785.5 L947.0,788.3 L947.0,789.8 L947.1,791.5 L947.1,793.4 L947.1,795.4 L947.1,797.4 L947.2,799.6 L947.2,801.8 L947.2,804.0 L947.2,806.3 L947.2,808.5 L947.2,810.7 L947.2,812.9 L947.2,815.0 L947.2,817.1 L947.2,819.3 L947.2,821.7 L947.2,824.0 L947.3,826.4 L947.3,828.7 L947.3,831.0 L947.3,833.2 L947.3,835.2 L947.3,837.2 L947.3,838.9 L947.2,840.4 L947.2,841.7 L946.2,844.5 L946.2,845.8 L946.1,847.5 L946.1,849.6 L946.1,851.8 L946.1,854.2 L946.1,856.7 L946.1,859.2 L946.2,861.7 L946.2,864.1 L946.2,866.3 L946.2,868.2 L946.2,869.9 L946.2,871.1 L958.0,871.1 L958.0,869.9 L958.0,868.2 L958.0,866.3 L958.0,864.1 L958.0,861.7 L958.1,859.2 L958.1,856.7 L958.1,854.2 L958.1,851.8 L958.1,849.6 L958.1,847.5 L958.0,845.8 L958.0,844.5 L957.0,841.7 L957.0,840.4 L956.9,838.9 L956.9,837.2 L956.9,835.2 L956.9,833.2 L956.9,831.0 L956.9,828.7 L956.9,826.4 L957.0,824.0 L957.0,821.7 L957.0,819.3 L957.0,817.1 L957.0,815.0 L957.0,812.9 L957.0,810.7 L957.0,808.5 L957.0,806.3 L957.0,804.0 L957.0,801.8 L957.0,799.6 L957.1,797.4 L957.1,795.4 L957.1,793.4 L957.1,791.5 L957.2,789.8 L957.2,788.3 L957.3,785.5 L957.4,783.4 L957.6,781.8 L957.8,780.3 L958.0,778.9 L958.2,777.2 L958.4,775.3 L958.7,773.4 L959.0,771.5 L959.3,769.7 L959.6,767.8 L959.9,766.1 L960.3,764.1 L960.6,762.3 L961.0,760.5 L961.4,758.8 L961.7,757.0 L962.1,754.9 L962.5,752.8 L962.8,750.6 L963.2,748.3 L963.5,746.6 L963.8,744.8 L964.1,742.9 L964.3,741.0 L964.6,739.1 L964.9,737.2 L965.2,735.4 L965.4,733.5 L965.6,731.7 L965.9,729.8 L966.1,728.0 L966.3,726.1 L966.5,724.2 L966.7,722.4 L966.9,720.5 L967.1,718.7 L967.2,716.9 L967.3,715.0 L967.4,713.1 L967.4,711.3 L967.4,709.5 L967.4,707.6 L967.3,705.8 L967.3,703.9 L967.2,702.0 L967.2,700.2 L967.1,698.3 L967.0,696.5 L966.9,694.6 L966.8,692.8 L966.7,691.0 L966.6,689.1 L966.4,687.2 L966.3,685.4 L966.1,683.6 L966.0,681.7 L965.9,679.9 L965.7,678.0 L965.6,676.2 L965.4,674.3 L965.2,672.5 L965.1,670.6 L965.0,668.7 L964.8,666.9 L964.7,665.0 L964.5,663.1 L964.4,661.3 L964.3,659.4 L964.2,657.5 L964.2,655.7 L964.1,653.8 L964.1,652.0 L964.1,650.1 L964.1,648.3 L964.1,646.5 L964.1,644.6 L964.1,642.8 L964.2,640.9 L964.2,639.1 L964.3,637.2 L964.4,635.3 L964.6,633.3 L964.8,631.4 L964.9,629.5 L965.1,627.7 L965.3,626.1 L965.6,623.7 L965.8,621.8 L966.2,619.4 L966.5,617.8 L966.8,616.0 L967.2,614.1 L967.7,612.2 L968.1,610.2 L968.5,608.3 L968.9,606.5 L969.4,604.6 L969.8,602.8 L970.3,600.9 L970.7,599.1 L971.2,597.2 L971.7,595.4 L972.2,593.5 L972.7,591.7 L973.3,589.8 L973.8,588.0 L974.3,586.1 L974.8,584.2 L975.3,582.4 L975.9,580.5 L976.4,578.7 L976.9,576.9 L977.4,575.0 L977.9,573.1 L978.4,571.3 L978.9,569.5 L979.4,567.6 L979.9,565.8 L980.4,563.9 L980.9,562.0 L981.5,560.2 L982.0,558.3 L982.5,556.5 L983.1,554.6 L983.6,552.8 L984.1,551.0 L984.7,549.1 L985.2,547.2 L985.7,545.4 L986.2,543.6 L986.8,541.7 L987.4,539.9 L988.0,538.0 L988.6,536.2 L989.2,534.3 L989.8,532.5 L990.4,530.6 L991.0,528.7 L991.6,526.9 L992.2,525.0 L992.8,523.1 L993.5,521.3 L994.1,519.4 L994.8,517.5 L995.4,515.7 L996.1,513.8 L996.8,512.0 L997.5,510.1 L998.2,508.3 L998.9,506.4 L999.7,504.6 L1000.4,502.8 L1001.2,500.9 L1002.0,499.1 L1002.7,497.2 L1003.4,495.4 L1004.2,493.5 L1004.9,491.7 L1005.6,489.8 L1006.3,488.0 L1007.1,486.1 L1007.9,484.2 L1008.7,482.4 L1009.5,480.5 L1010.3,478.6 L1011.1,476.8 L1011.9,475.0 L1012.8,472.9 L1013.6,470.9 L1014.4,468.9 L1015.2,467.0 L1016.0,465.0 L1016.8,463.0 L1017.6,461.0 L1018.3,459.0 L1019.1,457.0 L1019.9,455.0 L1020.7,453.0 L1021.5,451.0 L1022.2,449.0 L1023.0,447.0 L1023.8,445.0 L1024.6,443.0 L1025.3,441.0 L1026.1,439.0 L1026.9,437.0 L1027.7,435.0 L1028.5,433.0 L1029.4,431.0 L1030.2,429.0 L1031.1,427.0 L1032.1,425.0 L1033.1,423.0 L1034.2,421.0 L1035.4,419.0 L1036.5,417.0 L1037.7,415.0 L1038.9,413.0 L1040.1,411.0 L1041.3,409.0 L1042.5,407.0 L1043.8,405.0 L1045.1,403.0 L1046.4,401.0 L1047.7,399.0 L1049.1,397.0 L1050.4,395.0 L1051.7,393.0 L1053.1,391.0 L1054.4,389.0 L1055.8,387.0 L1057.1,385.0 L1058.4,383.0 L1059.7,381.0 L1061.0,379.0 L1062.2,377.0 L1063.4,375.0 L1064.6,373.0 L1065.7,371.0 L1066.7,369.0 L1067.8,367.0 L1068.8,365.0 L1069.8,363.0 L1070.7,361.0 L1071.6,359.0 L1072.5,357.0 L1073.4,355.0 L1074.2,353.0 L1075.1,350.9 L1075.9,348.9 L1076.6,346.9 L1077.3,345.0 L1078.1,342.7 L1078.7,340.5 L1079.3,338.3 L1079.9,336.1 L1080.5,333.9 L1081.0,331.6 L1081.4,329.4 L1081.8,327.2 L1082.1,325.0 L1082.3,322.8 L1082.4,320.5 L1082.4,318.3 L1082.4,316.1 L1082.3,313.8 L1082.1,311.6 L1081.8,309.4 L1081.5,307.2 L1081.0,305.0 L1080.5,302.8 L1079.9,300.6 L1079.2,298.4 L1078.4,296.2 L1077.5,293.9 L1076.5,291.7 L1075.4,289.5 L1074.2,287.2 L1072.9,285.0 L1071.5,282.8 L1070.1,280.7 L1068.6,278.6 L1067.1,276.5 L1065.4,274.4 L1063.6,272.3 L1061.7,270.3 L1059.7,268.2 L1057.7,266.1 L1055.6,263.9 L1053.3,261.7 L1051.1,259.4 L1048.8,257.2 L1046.6,255.1 L1044.3,253.0 L1042.1,251.0 L1039.9,248.9 L1037.7,246.8 L1035.5,244.7 L1033.2,242.6 L1031.0,240.6 L1028.8,238.6 L1026.5,236.7 L1024.3,234.7 L1022.1,232.8 L1019.9,230.8 L1017.7,228.9 L1015.4,226.9 L1013.2,225.0 L1010.9,223.0 L1008.6,220.9 L1006.3,219.0 L1004.1,217.2 L1001.2,215.1 L998.4,213.3 L996.5,212.0 Z" fill="#ffffff" fill-opacity="0.2" stroke="#333333" stroke-width="4" stroke-linejoin="miter"/>
<path d="M1468.5,73.8 L1468.5,74.9 L1468.5,76.1 L1468.5,77.4 L1468.5,78.8 L1468.5,80.4 L1468.5,82.0 L1468.5,83.7 L1468.5,85.6 L1468.5,87.5 L1468.5,89.5 L1468.5,91.6 L1468.5,93.7 L1468.5,95.9 L1468.5,98.2 L1468.5,100.5 L1468.5,102.8 L1468.5,105.2 L1468.5,107.6 L1468.5,110.1 L1468.6,112.5 L1468.6,115.0 L1468.6,117.4 L1468.6,119.9 L1468.6,122.4 L1468.6,124.8 L1468.6,127.3 L1468.6,129.7 L1468.6,132.1 L1468.6,134.4 L1468.6,136.7 L1468.6,139.0 L1468.6,141.2 L1468.6,143.3 L1468.6,145.4 L1468.6,147.4 L1468.6,149.3 L1468.5,151.1 L1468.5,152.9 L1468.5,154.5 L1468.5,156.1 L1468.5,157.5 L1468.5,158.8 L1468.5,160.0 L1468.4,166.1 L1468.3,168.9 L1468.1,169.6 L1467.9,169.5 L1467.8,169.5 L1467.6,171.0 L1467.5,172.7 L1467.4,174.6 L1467.3,176.7 L1467.2,178.9 L1467.1,181.1 L1467.0,183.4 L1466.9,185.5 L1466.8,187.6 L1466.7,189.4 L1466.6,191.0 L1466.4,193.8 L1466.3,195.7 L1466.2,197.5 L1466.0,200.0 L1465.9,201.7 L1465.7,203.6 L1465.5,205.7 L1465.3,207.9 L1465.2,210.1 L1465.0,212.4 L1464.8,214.6 L1464.6,216.7 L1464.4,218.8 L1464.3,220.9 L1464.1,222.9 L1463.9,225.0 L1463.8,227.1 L1463.6,229.1 L1463.5,231.2 L1463.3,233.3 L1463.1,235.4 L1463.0,237.5 L1462.8,239.6 L1462.7,241.6 L1462.5,243.7 L1462.4,245.8 L1462.2,247.9 L1462.1,250.0 L1462.0,252.1 L1461.9,254.2 L1461.8,256.3 L1461.7,258.4 L1461.6,260.4 L1461.6,262.5 L1461.5,264.6 L1461.4,266.7 L1461.3,268.8 L1461.2,270.9 L1461.1,272.9 L1461.0,275.0 L1460.9,277.1 L1460.9,279.1 L1460.8,281.2 L1460.7,283.3 L1460.6,285.4 L1460.6,287.6 L1460.5,289.8 L1460.5,292.0 L1460.4,294.1 L1460.4,296.2 L1460.3,298.2 L1460.2,300.0 L1460.1,302.2 L1459.9,304.1 L1459.7,305.9 L1459.6,307.6 L1459.4,309.3 L1459.2,311.1 L1459.0,313.0 L1458.8,314.8 L1458.6,316.7 L1458.4,318.5 L1458.2,320.4 L1458.0,322.2 L1457.8,324.1 L1457.6,325.9 L1457.4,327.8 L1457.2,329.6 L1457.0,331.4 L1456.8,333.3 L1456.6,335.1 L1456.4,337.0 L1456.2,338.8 L1456.0,340.6 L1455.7,342.5 L1455.5,344.4 L1455.3,346.3 L1455.0,348.3 L1454.8,350.2 L1454.6,352.2 L1454.3,354.4 L1454.0,356.7 L1453.8,358.6 L1453.5,360.5 L1453.2,362.6 L1452.9,364.7 L1452.6,366.9 L1452.3,369.0 L1452.0,371.2 L1451.6,373.3 L1451.2,375.4 L1450.8,377.5 L1450.4,379.6 L1449.9,381.6 L1449.5,383.7 L1449.0,385.8 L1448.6,387.9 L1448.1,390.0 L1447.6,392.1 L1447.2,394.2 L1446.7,396.3 L1446.3,398.4 L1445.8,400.4 L1445.4,402.5 L1444.9,404.6 L1444.4,406.7 L1443.9,408.8 L1443.5,410.9 L1443.0,412.9 L1442.5,415.0 L1442.1,417.1 L1441.5,419.1 L1441.0,421.2 L1440.4,423.3 L1439.7,425.4 L1439.1,427.5 L1438.3,429.6 L1437.6,431.6 L1436.8,433.7 L1436.0,435.8 L1435.2,437.9 L1434.4,440.0 L1433.6,442.1 L1432.8,444.2 L1432.0,446.3 L1431.2,448.4 L1430.4,450.4 L1429.6,452.5 L1428.7,454.6 L1427.9,456.7 L1427.1,458.8 L1426.2,460.9 L1425.4,463.0 L1424.5,465.1 L1423.7,467.2 L1422.8,469.2 L1422.0,471.3 L1421.2,473.3 L1420.4,475.4 L1419.6,477.5 L1418.7,479.7 L1417.9,481.9 L1417.1,483.9 L1416.4,485.8 L1415.7,487.5 L1415.1,488.9 L1413.8,491.2 L1412.5,493.3 L1411.8,494.7 L1411.0,496.5 L1410.1,498.4 L1409.1,500.5 L1408.1,502.6 L1407.1,504.7 L1406.2,506.7 L1405.3,508.6 L1404.4,510.5 L1403.5,512.4 L1402.6,514.3 L1401.8,516.2 L1400.9,518.1 L1400.0,520.0 L1399.1,521.9 L1398.3,523.8 L1397.4,525.7 L1396.5,527.6 L1395.7,529.5 L1394.8,531.4 L1394.0,533.3 L1393.2,535.2 L1392.3,537.1 L1391.5,539.0 L1390.7,541.0 L1389.9,542.9 L1389.2,544.8 L1388.4,546.7 L1387.7,548.6 L1387.0,550.5 L1386.3,552.4 L1385.6,554.3 L1384.9,556.2 L1384.3,558.1 L1383.6,560.0 L1382.9,561.9 L1382.3,563.8 L1381.6,565.7 L1380.9,567.6 L1380.3,569.5 L1379.6,571.4 L1379.0,573.3 L1378.4,575.2 L1377.7,577.1 L1377.1,579.0 L1376.5,581.0 L1375.8,582.9 L1375.3,584.8 L1374.7,586.7 L1374.2,588.6 L1373.7,590.5 L1373.2,592.4 L1372.7,594.3 L1372.3,596.2 L1371.9,598.1 L1371.5,600.0 L1371.1,601.9 L1370.8,603.8 L1370.4,605.7 L1370.1,607.6 L1369.8,609.5 L1369.5,611.4 L1369.3,613.3 L1369.1,615.2 L1368.9,617.1 L1368.8,619.0 L1368.7,621.0 L1368.6,622.9 L1368.6,624.8 L1368.6,626.7 L1368.7,628.6 L1368.7,630.5 L1368.9,632.4 L1369.0,634.3 L1369.2,636.2 L1369.5,638.1 L1369.7,640.0 L1370.0,641.9 L1370.3,643.9 L1370.6,645.9 L1371.0,647.8 L1371.4,649.7 L1371.8,651.6 L1372.2,653.3 L1372.8,655.5 L1373.5,657.4 L1374.1,659.2 L1374.8,661.1 L1375.5,663.3 L1376.0,665.0 L1376.5,666.9 L1377.0,668.8 L1377.5,670.8 L1378.0,672.8 L1378.5,674.8 L1379.0,676.7 L1379.5,678.6 L1380.1,680.5 L1380.7,682.4 L1381.3,684.3 L1381.8,686.2 L1382.4,688.1 L1383.0,690.0 L1383.6,691.9 L1384.1,693.8 L1384.7,695.7 L1385.2,697.6 L1385.8,699.5 L1386.4,701.4 L1387.0,703.3 L1387.6,705.2 L1388.3,707.1 L1388.9,709.0 L1389.6,711.0 L1390.3,712.9 L1391.0,714.8 L1391.7,716.7 L1392.4,718.6 L1393.2,720.5 L1393.9,722.4 L1394.7,724.3 L1395.5,726.2 L1396.2,728.1 L1397.0,730.0 L1397.8,731.9 L1398.5,733.8 L1399.3,735.7 L1400.0,737.6 L1400.8,739.5 L1401.6,741.4 L1402.3,743.3 L1403.0,745.2 L1403.8,747.1 L1404.5,749.0 L1405.2,751.0 L1405.9,752.9 L1406.6,754.8 L1407.3,756.7 L1408.0,758.6 L1408.7,760.5 L1409.5,762.4 L1410.2,764.3 L1410.9,766.2 L1411.6,768.1 L1412.3,770.0 L1413.0,771.9 L1413.7,773.8 L1414.3,775.7 L1415.0,777.6 L1415.7,779.5 L1416.3,781.4 L1417.0,783.3 L1417.7,785.2 L1418.3,787.1 L1419.0,789.0 L1419.7,791.0 L1420.4,792.9 L1421.0,794.8 L1421.7,796.7 L1422.4,798.6 L1423.0,800.5 L1423.7,802.4 L1424.3,804.3 L1425.0,806.2 L1425.6,808.1 L1426.3,810.0 L1427.0,811.9 L1427.6,814.0 L1428.3,816.0 L1429.0,818.0 L1429.7,819.9 L1430.3,821.7 L1430.8,823.3 L1431.6,825.6 L1432.2,827.3 L1432.7,829.0 L1433.4,831.1 L1433.9,832.8 L1434.5,834.6 L1435.2,836.4 L1435.8,838.4 L1436.4,840.3 L1437.0,842.2 L1437.5,844.1 L1438.1,845.9 L1438.6,847.8 L1439.1,849.6 L1439.6,851.5 L1440.1,853.3 L1440.6,855.1 L1441.1,857.0 L1441.7,858.8 L1442.2,860.7 L1442.7,862.5 L1443.2,864.4 L1443.7,866.3 L1444.2,868.1 L1444.7,870.0 L1445.2,871.9 L1445.7,873.7 L1446.2,875.6 L1446.7,877.5 L1447.2,879.3 L1447.7,881.2 L1448.2,883.0 L1448.7,884.9 L1449.2,886.7 L1449.7,888.6 L1450.2,890.4 L1450.7,892.2 L1451.2,894.1 L1451.6,896.0 L1452.1,897.8 L1452.6,899.6 L1453.0,901.5 L1453.5,903.3 L1453.9,905.2 L1454.4,907.0 L1454.8,908.9 L1455.2,910.8 L1455.6,912.6 L1456.0,914.5 L1456.3,916.3 L1456.7,918.1 L1457.0,920.0 L1457.3,921.9 L1457.7,923.7 L1458.0,925.5 L1458.3,927.4 L1458.5,929.2 L1458.8,931.1 L1459.0,933.0 L1459.3,934.8 L1459.5,936.7 L1459.7,938.5 L1459.8,940.4 L1460.0,942.2 L1460.2,944.0 L1460.3,945.8 L1460.4,947.5 L1460.6,949.3 L1460.7,951.3 L1460.8,953.3 L1460.9,955.2 L1461.0,957.4 L1461.1,959.6 L1461.2,961.8 L1461.2,964.0 L1461.3,966.0 L1461.4,967.8 L1461.5,970.2 L1461.6,972.1 L1461.7,974.1 L1461.8,976.7 L1461.9,978.4 L1462.0,980.3 L1462.1,982.4 L1462.2,984.5 L1462.3,986.7 L1462.4,989.0 L1462.5,991.2 L1462.6,993.3 L1462.7,995.4 L1462.8,997.5 L1462.8,999.6 L1462.9,1001.6 L1463.0,1003.7 L1463.1,1005.8 L1463.1,1007.9 L1463.2,1010.0 L1463.3,1012.1 L1463.3,1014.2 L1463.4,1016.3 L1463.5,1018.4 L1463.6,1020.4 L1463.7,1022.5 L1463.7,1024.6 L1463.8,1026.7 L1463.9,1028.8 L1464.0,1030.9 L1464.0,1032.9 L1464.1,1035.0 L1464.2,1037.1 L1464.2,1039.1 L1464.3,1041.2 L1464.4,1043.3 L1464.5,1045.4 L1464.5,1047.5 L1464.6,1049.6 L1464.7,1051.6 L1464.8,1053.7 L1464.8,1055.8 L1464.9,1057.9 L1465.0,1060.0 L1465.1,1062.1 L1465.2,1064.2 L1465.3,1066.4 L1465.4,1068.5 L1465.5,1070.6 L1465.6,1072.7 L1465.7,1074.7 L1465.8,1076.7 L1465.9,1079.0 L1466.1,1081.2 L1466.2,1083.5 L1466.3,1085.6 L1466.4,1087.7 L1466.6,1089.5 L1466.7,1091.0 L1467.1,1092.9 L1467.5,1096.0 L1467.5,1097.3 L1467.6,1099.0 L1467.6,1100.8 L1467.6,1102.8 L1467.6,1104.9 L1467.7,1107.1 L1467.7,1109.4 L1467.7,1111.6 L1467.7,1113.9 L1467.7,1116.0 L1467.7,1118.1 L1467.7,1120.0 L1467.7,1122.2 L1467.7,1124.5 L1467.7,1126.8 L1467.7,1129.1 L1467.7,1131.2 L1467.7,1133.3 L1467.7,1135.2 L1467.7,1136.9 L1467.7,1138.4 L1467.7,1139.5 L1470.3,1139.5 L1470.3,1138.4 L1470.3,1136.9 L1470.3,1135.2 L1470.3,1133.3 L1470.3,1131.2 L1470.3,1129.1 L1470.3,1126.8 L1470.3,1124.5 L1470.3,1122.2 L1470.3,1120.0 L1470.3,1118.1 L1470.3,1116.0 L1470.3,1113.9 L1470.3,1111.6 L1470.3,1109.4 L1470.3,1107.1 L1470.4,1104.9 L1470.4,1102.8 L1470.4,1100.8 L1470.4,1099.0 L1470.5,1097.3 L1470.5,1096.0 L1470.9,1092.9 L1471.3,1091.0 L1471.4,1089.5 L1471.6,1087.7 L1471.7,1085.6 L1471.8,1083.5 L1471.9,1081.2 L1472.1,1079.0 L1472.2,1076.7 L1472.3,1074.7 L1472.4,1072.7 L1472.5,1070.6 L1472.6,1068.5 L1472.7,1066.4 L1472.8,1064.2 L1472.9,1062.1 L1473.0,1060.0 L1473.1,1057.9 L1473.2,1055.8 L1473.2,1053.7 L1473.3,1051.6 L1473.4,1049.6 L1473.5,1047.5 L1473.5,1045.4 L1473.6,1043.3 L1473.7,1041.2 L1473.8,1039.1 L1473.8,1037.1 L1473.9,1035.0 L1474.0,1032.9 L1474.0,1030.9 L1474.1,1028.8 L1474.2,1026.7 L1474.3,1024.6 L1474.3,1022.5 L1474.4,1020.4 L1474.5,1018.4 L1474.6,1016.3 L1474.7,1014.2 L1474.7,1012.1 L1474.8,1010.0 L1474.9,1007.9 L1474.9,1005.8 L1475.0,1003.7 L1475.1,1001.6 L1475.2,999.6 L1475.2,997.5 L1475.3,995.4 L1475.4,993.3 L1475.5,991.2 L1475.6,989.0 L1475.7,986.7 L1475.8,984.5 L1475.9,982.4 L1476.0,980.3 L1476.1,978.4 L1476.2,976.7 L1476.3,974.1 L1476.4,972.1 L1476.5,970.2 L1476.6,967.8 L1476.7,966.0 L1476.8,964.0 L1476.8,961.8 L1476.9,959.6 L1477.0,957.4 L1477.1,955.2 L1477.2,953.3 L1477.3,951.3 L1477.4,949.3 L1477.6,947.5 L1477.7,945.8 L1477.8,944.0 L1478.0,942.2 L1478.2,940.4 L1478.3,938.5 L1478.5,936.7 L1478.7,934.8 L1479.0,933.0 L1479.2,931.1 L1479.5,929.2 L1479.7,927.4 L1480.0,925.5 L1480.3,923.7 L1480.7,921.9 L1481.0,920.0 L1481.3,918.1 L1481.7,916.3 L1482.0,914.5 L1482.4,912.6 L1482.8,910.8 L1483.2,908.9 L1483.6,907.0 L1484.1,905.2 L1484.5,903.3 L1485.0,901.5 L1485.4,899.6 L1485.9,897.8 L1486.4,896.0 L1486.8,894.1 L1487.3,892.2 L1487.8,890.4 L1488.3,888.6 L1488.8,886.7 L1489.3,884.9 L1489.8,883.0 L1490.3,881.2 L1490.8,879.3 L1491.3,877.5 L1491.8,875.6 L1492.3,873.7 L1492.8,871.9 L1493.3,870.0 L1493.8,868.1 L1494.3,866.3 L1494.8,864.4 L1495.3,862.5 L1495.8,860.7 L1496.3,858.8 L1496.9,857.0 L1497.4,855.1 L1497.9,853.3 L1498.4,851.5 L1498.9,849.6 L1499.4,847.8 L1499.9,845.9 L1500.5,844.1 L1501.0,842.2 L1501.6,840.3 L1502.2,838.4 L1502.8,836.4 L1503.5,834.6 L1504.1,832.8 L1504.6,831.1 L1505.3,829.0 L1505.8,827.3 L1506.4,825.6 L1507.2,823.3 L1507.7,821.7 L1508.3,819.9 L1509.0,818.0 L1509.7,816.0 L1510.4,814.0 L1511.0,811.9 L1511.7,810.0 L1512.4,808.1 L1513.0,806.2 L1513.7,804.3 L1514.3,802.4 L1515.0,800.5 L1515.6,798.6 L1516.3,796.7 L1517.0,794.8 L1517.6,792.9 L1518.3,791.0 L1519.0,789.0 L1519.7,787.1 L1520.3,785.2 L1521.0,783.3 L1521.7,781.4 L1522.3,779.5 L1523.0,777.6 L1523.7,775.7 L1524.3,773.8 L1525.0,771.9 L1525.7,770.0 L1526.4,768.1 L1527.1,766.2 L1527.8,764.3 L1528.5,762.4 L1529.3,760.5 L1530.0,758.6 L1530.7,756.7 L1531.4,754.8 L1532.1,752.9 L1532.8,751.0 L1533.5,749.0 L1534.2,747.1 L1535.0,745.2 L1535.7,743.3 L1536.4,741.4 L1537.2,739.5 L1538.0,737.6 L1538.7,735.7 L1539.5,733.8 L1540.2,731.9 L1541.0,730.0 L1541.8,728.1 L1542.5,726.2 L1543.3,724.3 L1544.1,722.4 L1544.8,720.5 L1545.6,718.6 L1546.3,716.7 L1547.0,714.8 L1547.7,712.9 L1548.4,711.0 L1549.1,709.0 L1549.7,707.1 L1550.4,705.2 L1551.0,703.3 L1551.6,701.4 L1552.2,699.5 L1552.8,697.6 L1553.3,695.7 L1553.9,693.8 L1554.4,691.9 L1555.0,690.0 L1555.6,688.1 L1556.2,686.2 L1556.7,684.3 L1557.3,682.4 L1557.9,680.5 L1558.5,678.6 L1559.0,676.7 L1559.5,674.8 L1560.0,672.8 L1560.5,670.8 L1561.0,668.8 L1561.5,666.9 L1562.0,665.0 L1562.5,663.3 L1563.2,661.1 L1563.9,659.2 L1564.5,657.4 L1565.2,655.5 L1565.8,653.3 L1566.2,651.6 L1566.6,649.7 L1567.0,647.8 L1567.4,645.9 L1567.7,643.9 L1568.0,641.9 L1568.3,640.0 L1568.5,638.1 L1568.8,636.2 L1569.0,634.3 L1569.1,632.4 L1569.3,630.5 L1569.3,628.6 L1569.4,626.7 L1569.4,624.8 L1569.4,622.9 L1569.3,621.0 L1569.2,619.0 L1569.1,617.1 L1568.9,615.2 L1568.7,613.3 L1568.5,611.4 L1568.2,609.5 L1567.9,607.6 L1567.6,605.7 L1567.2,603.8 L1566.9,601.9 L1566.5,600.0 L1566.1,598.1 L1565.7,596.2 L1565.3,594.3 L1564.8,592.4 L1564.3,590.5 L1563.8,588.6 L1563.3,586.7 L1562.7,584.8 L1562.2,582.9 L1561.5,581.0 L1560.9,579.0 L1560.3,577.1 L1559.6,575.2 L1559.0,573.3 L1558.4,571.4 L1557.7,569.5 L1557.1,567.6 L1556.4,565.7 L1555.7,563.8 L1555.1,561.9 L1554.4,560.0 L1553.7,558.1 L1553.1,556.2 L1552.4,554.3 L1551.7,552.4 L1551.0,550.5 L1550.3,548.6 L1549.6,546.7 L1548.8,544.8 L1548.1,542.9 L1547.3,541.0 L1546.5,539.0 L1545.7,537.1 L1544.8,535.2 L1544.0,533.3 L1543.2,531.4 L1542.3,529.5 L1541.5,527.6 L1540.6,525.7 L1539.7,523.8 L1538.9,521.9 L1538.0,520.0 L1537.1,518.1 L1536.2,516.2 L1535.4,514.3 L1534.5,512.4 L1533.6,510.5 L1532.7,508.6 L1531.8,506.7 L1530.9,504.7 L1529.9,502.6 L1528.9,500.5 L1527.9,498.4 L1527.0,496.5 L1526.2,494.7 L1525.5,493.3 L1524.2,491.2 L1522.9,488.9 L1522.3,487.5 L1521.6,485.8 L1520.9,483.9 L1520.1,481.9 L1519.3,479.7 L1518.4,477.5 L1517.6,475.4 L1516.8,473.3 L1516.0,471.3 L1515.2,469.2 L1514.3,467.2 L1513.5,465.1 L1512.6,463.0 L1511.8,460.9 L1510.9,458.8 L1510.1,456.7 L1509.3,454.6 L1508.4,452.5 L1507.6,450.4 L1506.8,448.4 L1506.0,446.3 L1505.2,444.2 L1504.4,442.1 L1503.6,440.0 L1502.8,437.9 L1502.0,435.8 L1501.2,433.7 L1500.4,431.6 L1499.7,429.6 L1498.9,427.5 L1498.3,425.4 L1497.6,423.3 L1497.0,421.2 L1496.5,419.1 L1495.9,417.1 L1495.5,415.0 L1495.0,412.9 L1494.5,410.9 L1494.1,408.8 L1493.6,406.7 L1493.1,404.6 L1492.6,402.5 L1492.2,400.4 L1491.7,398.4 L1491.3,396.3 L1490.8,394.2 L1490.4,392.1 L1489.9,390.0 L1489.4,387.9 L1489.0,385.8 L1488.5,383.7 L1488.1,381.6 L1487.6,379.6 L1487.2,377.5 L1486.8,375.4 L1486.4,373.3 L1486.0,371.2 L1485.7,369.0 L1485.4,366.9 L1485.1,364.7 L1484.8,362.6 L1484.5,360.5 L1484.2,358.6 L1484.0,356.7 L1483.7,354.4 L1483.4,352.2 L1483.2,350.2 L1483.0,348.3 L1482.7,346.3 L1482.5,344.4 L1482.3,342.5 L1482.0,340.6 L1481.8,338.8 L1481.6,337.0 L1481.4,335.1 L1481.2,333.3 L1481.0,331.4 L1480.8,329.6 L1480.6,327.8 L1480.4,325.9 L1480.2,324.1 L1480.0,322.2 L1479.8,320.4 L1479.6,318.5 L1479.4,316.7 L1479.2,314.8 L1479.0,313.0 L1478.8,311.1 L1478.6,309.3 L1478.4,307.6 L1478.3,305.9 L1478.1,304.1 L1477.9,302.2 L1477.8,300.0 L1477.7,298.2 L1477.6,296.2 L1477.6,294.1 L1477.5,292.0 L1477.5,289.8 L1477.4,287.6 L1477.4,285.4 L1477.3,283.3 L1477.2,281.2 L1477.1,279.1 L1477.1,277.1 L1477.0,275.0 L1476.9,272.9 L1476.8,270.9 L1476.7,268.8 L1476.6,266.7 L1476.5,264.6 L1476.4,262.5 L1476.4,260.4 L1476.3,258.4 L1476.2,256.3 L1476.1,254.2 L1476.0,252.1 L1475.9,250.0 L1475.8,247.9 L1475.6,245.8 L1475.5,243.7 L1475.3,241.6 L1475.2,239.6 L1475.0,237.5 L1474.9,235.4 L1474.7,233.3 L1474.5,231.2 L1474.4,229.1 L1474.2,227.1 L1474.1,225.0 L1473.9,222.9 L1473.7,220.9 L1473.6,218.8 L1473.4,216.7 L1473.2,214.6 L1473.0,212.4 L1472.8,210.1 L1472.7,207.9 L1472.5,205.7 L1472.3,203.6 L1472.1,201.7 L1472.0,200.0 L1471.8,197.5 L1471.7,195.7 L1471.6,193.8 L1471.4,191.0 L1471.3,189.4 L1471.2,187.6 L1471.1,185.5 L1471.0,183.4 L1470.9,181.1 L1470.8,178.9 L1470.7,176.7 L1470.6,174.6 L1470.5,172.7 L1470.4,171.0 L1470.2,169.5 L1470.1,169.5 L1469.9,169.6 L1469.7,168.9 L1469.6,166.1 L1469.5,160.0 L1469.5,158.8 L1469.5,157.5 L1469.5,156.1 L1469.5,154.5 L1469.5,152.9 L1469.5,151.1 L1469.4,149.3 L1469.4,147.4 L1469.4,145.4 L1469.4,143.3 L1469.4,141.2 L1469.4,139.0 L1469.4,136.7 L1469.4,134.4 L1469.4,132.1 L1469.4,129.7 L1469.4,127.3 L1469.4,124.8 L1469.4,122.4 L1469.4,119.9 L1469.4,117.4 L1469.4,115.0 L1469.4,112.5 L1469.5,110.1 L1469.5,107.6 L1469.5,105.2 L1469.5,102.8 L1469.5,100.5 L1469.5,98.2 L1469.5,95.9 L1469.5,93.7 L1469.5,91.6 L1469.5,89.5 L1469.5,87.5 L1469.5,85.6 L1469.5,83.7 L1469.5,82.0 L1469.5,80.4 L1469.5,78.8 L1469.5,77.4 L1469.5,76.1 L1469.5,74.9 L1469.5,73.8 Z" fill="#ffffff" fill-opacity="0.2" stroke="#333333" stroke-width="4" stroke-linejoin="miter"/>
<circle cx="435.0" cy="375.4" r="23.4" fill="#8B0000"/>
<circle cx="952.1" cy="392.2" r="23.4" fill="#8B0000"/>
<circle cx="1469.0" cy="635.2" r="23.4" fill="#8B0000"/>
<g stroke="#000000" stroke-width="3.9" fill="none">
<line x1="438.9" x2="445.0" y1="375.4" y2="375.4"/>
<line x1="453.9" x2="473.0" y1="375.4" y2="375.4"/>
<line x1="482.3" x2="488.8" y1="375.4" y2="375.4"/>
<line x1="496.5" x2="517.2" y1="375.4" y2="375.4"/>
<line x1="526.5" x2="531.5" y1="375.4" y2="375.4"/>
<line x1="956.0" x2="962.1" y1="392.2" y2="392.2"/>
<line x1="971.0" x2="990.1" y1="392.2" y2="392.2"/>
<line x1="999.4" x2="1005.9" y1="392.2" y2="392.2"/>
<line x1="1013.6" x2="1034.3" y1="392.2" y2="392.2"/>
<line x1="1043.6" x2="1048.6" y1="392.2" y2="392.2"/>
<line x1="1472.8" x2="1484.8" y1="635.2" y2="635.2"/>
<line x1="1494.1" x2="1500.1" y1="635.2" y2="635.2"/>
<line x1="1510.1" x2="1528.1" y1="635.2" y2="635.2"/>
<line x1="1538.1" x2="1544.0" y1="635.2" y2="635.2"/>
</g>
<rect x="530.6" y="341.8" width="221.4" height="67.3" rx="6.5" ry="6.5" fill="#ffffff" stroke="#000000" stroke-width="1.5"/>
<text x="547.2" y="387.6" font-size="35.6" fill="#000" textLength="21.5" lengthAdjust="spacingAndGlyphs" style="font-family:'Liberation Serif','DejaVu Serif',serif">μ</text>
<path d="M545.8,366.0 L557.2,357.2 L568.6,366.0" fill="none" stroke="#000" stroke-width="2.1"/>
<text x="567.4" y="394.4" font-size="24.9" fill="#000" letter-spacing="0.45">mean</text>
<text x="636.9" y="387.4" font-size="25" fill="#000" stroke="#000" stroke-width="0.5" textLength="23.2" lengthAdjust="spacingAndGlyphs">=</text>
<text x="666.7" y="387.6" font-size="35.6" fill="#000" letter-spacing="0.7">9.28</text>
<rect x="1047.4" y="358.2" width="221.4" height="67.3" rx="6.5" ry="6.5" fill="#ffffff" stroke="#000000" stroke-width="1.5"/>
<text x="1064.0" y="404.0" font-size="35.6" fill="#000" textLength="21.5" lengthAdjust="spacingAndGlyphs" style="font-family:'Liberation Serif','DejaVu Serif',serif">μ</text>
<path d="M1062.6,382.4 L1074.0,373.6 L1085.4,382.4" fill="none" stroke="#000" stroke-width="2.1"/>
<text x="1084.2" y="410.8" font-size="24.9" fill="#000" letter-spacing="0.45">mean</text>
<text x="1153.7" y="403.8" font-size="25" fill="#000" stroke="#000" stroke-width="0.5" textLength="23.2" lengthAdjust="spacingAndGlyphs">=</text>
<text x="1183.5" y="404.0" font-size="35.6" fill="#000" letter-spacing="0.7">9.17</text>
<rect x="1543.1" y="600.8" width="221.4" height="67.3" rx="6.5" ry="6.5" fill="#ffffff" stroke="#000000" stroke-width="1.5"/>
<text x="1559.7" y="646.6" font-size="35.6" fill="#000" textLength="21.5" lengthAdjust="spacingAndGlyphs" style="font-family:'Liberation Serif','DejaVu Serif',serif">μ</text>
<path d="M1558.3,625.0 L1569.7,616.2 L1581.1,625.0" fill="none" stroke="#000" stroke-width="2.1"/>
<text x="1579.9" y="653.4" font-size="24.9" fill="#000" letter-spacing="0.45">mean</text>
<text x="1649.4" y="646.4" font-size="25" fill="#000" stroke="#000" stroke-width="0.5" textLength="23.2" lengthAdjust="spacingAndGlyphs">=</text>
<text x="1679.2" y="646.6" font-size="35.6" fill="#000" letter-spacing="0.7">7.55</text>
<g stroke="#333333" stroke-width="4" fill="none">
<line x1="114" x2="124.2" y1="268.0" y2="268.0"/>
<line x1="114" x2="124.2" y1="567.3" y2="567.3"/>
<line x1="114" x2="124.2" y1="866.7" y2="866.7"/>
<line x1="114" x2="124.2" y1="1166.0" y2="1166.0"/>
<line x1="435.0" x2="435.0" y1="1192.8" y2="1203"/>
<line x1="952.1" x2="952.1" y1="1192.8" y2="1203"/>
<line x1="1469.0" x2="1469.0" y1="1192.8" y2="1203"/>
</g>
<g fill="#4D4D4D" font-size="33.3">
<text x="107.0" y="281.3" text-anchor="end">10</text>
<text x="107.0" y="580.6" text-anchor="end">8</text>
<text x="107.0" y="880.0" text-anchor="end">6</text>
<text x="107.0" y="1179.3" text-anchor="end">4</text>
<text x="434.4" y="1237.0" text-anchor="middle" letter-spacing="-0.6">Healthy</text>
<text x="435.0" y="1273" text-anchor="middle" letter-spacing="0">(n = 178)</text>
<text x="951.5" y="1237.0" text-anchor="middle" letter-spacing="0">Adjacent</text>
<text x="952.4" y="1273" text-anchor="middle" letter-spacing="0.3">(n = 115)</text>
<text x="1469.0" y="1237.0" text-anchor="middle" letter-spacing="0">Case</text>
<text x="1469.0" y="1273" text-anchor="middle" letter-spacing="0">(n = 1,076)</text>
</g>
<text transform="translate(52.3,606) rotate(-90)" text-anchor="middle" font-size="42.1" font-weight="bold" fill="#000000">Molecule Expression (log2)</text>
</svg></body></html>
